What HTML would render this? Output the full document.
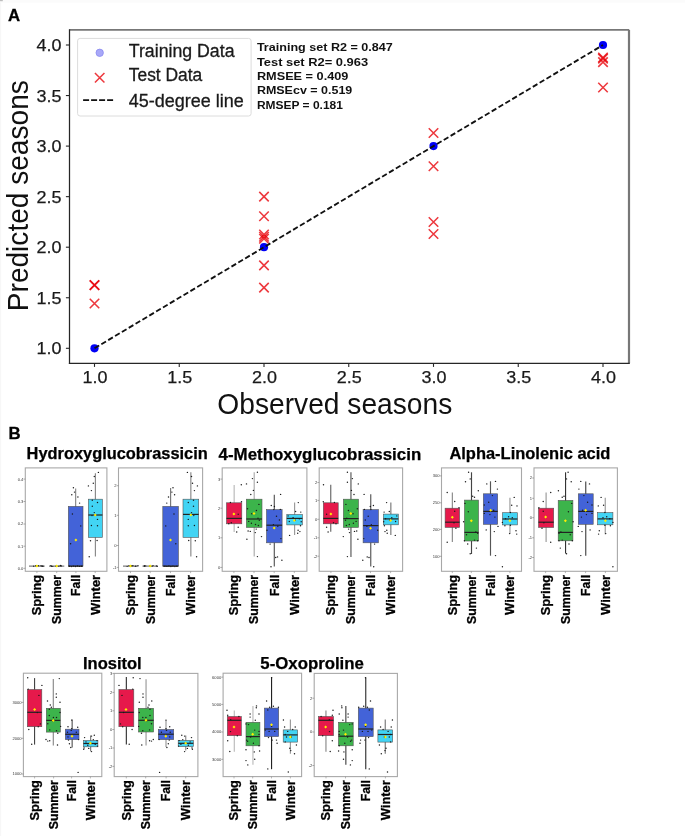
<!DOCTYPE html><html><head><meta charset="utf-8"><style>html,body{margin:0;padding:0;background:#fff;width:685px;height:836px;overflow:hidden}svg{display:block;will-change:transform}text{font-family:"Liberation Sans",sans-serif}</style></head><body>
<svg width="685" height="836" viewBox="0 0 685 836">
<rect x="0" y="0" width="685" height="836" fill="#fff"/>
<rect x="0" y="0" width="1.2" height="836" fill="#f7f7f7"/><rect x="0" y="0" width="685" height="2.6" fill="#fbfbfb"/><rect x="0" y="0" width="2.8" height="1.2" fill="#bdbdbd"/>
<text x="7.9" y="20.8" font-size="16.8" font-weight="bold" fill="#000" stroke="#000" stroke-width="0.3">A</text>
<line x1="69.5" y1="29.85" x2="629" y2="29.85" stroke="#777" stroke-width="1.6"/>
<line x1="629" y1="29.85" x2="629" y2="363.3" stroke="#777" stroke-width="2.2"/>
<line x1="69.5" y1="29.2" x2="69.5" y2="363.9" stroke="#262626" stroke-width="1.25"/>
<line x1="68.9" y1="363.3" x2="629.8" y2="363.3" stroke="#262626" stroke-width="1.25"/>
<line x1="94.50" y1="363.3" x2="94.50" y2="366.9" stroke="#262626" stroke-width="1.1"/>
<text x="94.90" y="383.2" font-size="17.3" text-anchor="middle" fill="#1a1a1a" stroke="#1a1a1a" stroke-width="0.25" textLength="25.0" lengthAdjust="spacingAndGlyphs">1.0</text>
<line x1="65.9" y1="348.30" x2="69.5" y2="348.30" stroke="#262626" stroke-width="1.1"/>
<text x="61.60" y="354.30" font-size="17.3" text-anchor="end" fill="#1a1a1a" stroke="#1a1a1a" stroke-width="0.25" textLength="25.0" lengthAdjust="spacingAndGlyphs">1.0</text>
<line x1="179.25" y1="363.3" x2="179.25" y2="366.9" stroke="#262626" stroke-width="1.1"/>
<text x="179.65" y="383.2" font-size="17.3" text-anchor="middle" fill="#1a1a1a" stroke="#1a1a1a" stroke-width="0.25" textLength="25.0" lengthAdjust="spacingAndGlyphs">1.5</text>
<line x1="65.9" y1="297.75" x2="69.5" y2="297.75" stroke="#262626" stroke-width="1.1"/>
<text x="61.60" y="303.75" font-size="17.3" text-anchor="end" fill="#1a1a1a" stroke="#1a1a1a" stroke-width="0.25" textLength="25.0" lengthAdjust="spacingAndGlyphs">1.5</text>
<line x1="264.00" y1="363.3" x2="264.00" y2="366.9" stroke="#262626" stroke-width="1.1"/>
<text x="264.40" y="383.2" font-size="17.3" text-anchor="middle" fill="#1a1a1a" stroke="#1a1a1a" stroke-width="0.25" textLength="25.0" lengthAdjust="spacingAndGlyphs">2.0</text>
<line x1="65.9" y1="247.20" x2="69.5" y2="247.20" stroke="#262626" stroke-width="1.1"/>
<text x="61.60" y="253.20" font-size="17.3" text-anchor="end" fill="#1a1a1a" stroke="#1a1a1a" stroke-width="0.25" textLength="25.0" lengthAdjust="spacingAndGlyphs">2.0</text>
<line x1="348.75" y1="363.3" x2="348.75" y2="366.9" stroke="#262626" stroke-width="1.1"/>
<text x="349.15" y="383.2" font-size="17.3" text-anchor="middle" fill="#1a1a1a" stroke="#1a1a1a" stroke-width="0.25" textLength="25.0" lengthAdjust="spacingAndGlyphs">2.5</text>
<line x1="65.9" y1="196.65" x2="69.5" y2="196.65" stroke="#262626" stroke-width="1.1"/>
<text x="61.60" y="202.65" font-size="17.3" text-anchor="end" fill="#1a1a1a" stroke="#1a1a1a" stroke-width="0.25" textLength="25.0" lengthAdjust="spacingAndGlyphs">2.5</text>
<line x1="433.50" y1="363.3" x2="433.50" y2="366.9" stroke="#262626" stroke-width="1.1"/>
<text x="433.90" y="383.2" font-size="17.3" text-anchor="middle" fill="#1a1a1a" stroke="#1a1a1a" stroke-width="0.25" textLength="25.0" lengthAdjust="spacingAndGlyphs">3.0</text>
<line x1="65.9" y1="146.10" x2="69.5" y2="146.10" stroke="#262626" stroke-width="1.1"/>
<text x="61.60" y="152.10" font-size="17.3" text-anchor="end" fill="#1a1a1a" stroke="#1a1a1a" stroke-width="0.25" textLength="25.0" lengthAdjust="spacingAndGlyphs">3.0</text>
<line x1="518.25" y1="363.3" x2="518.25" y2="366.9" stroke="#262626" stroke-width="1.1"/>
<text x="518.65" y="383.2" font-size="17.3" text-anchor="middle" fill="#1a1a1a" stroke="#1a1a1a" stroke-width="0.25" textLength="25.0" lengthAdjust="spacingAndGlyphs">3.5</text>
<line x1="65.9" y1="95.55" x2="69.5" y2="95.55" stroke="#262626" stroke-width="1.1"/>
<text x="61.60" y="101.55" font-size="17.3" text-anchor="end" fill="#1a1a1a" stroke="#1a1a1a" stroke-width="0.25" textLength="25.0" lengthAdjust="spacingAndGlyphs">3.5</text>
<line x1="603.00" y1="363.3" x2="603.00" y2="366.9" stroke="#262626" stroke-width="1.1"/>
<text x="603.40" y="383.2" font-size="17.3" text-anchor="middle" fill="#1a1a1a" stroke="#1a1a1a" stroke-width="0.25" textLength="25.0" lengthAdjust="spacingAndGlyphs">4.0</text>
<line x1="65.9" y1="45.00" x2="69.5" y2="45.00" stroke="#262626" stroke-width="1.1"/>
<text x="61.60" y="51.00" font-size="17.3" text-anchor="end" fill="#1a1a1a" stroke="#1a1a1a" stroke-width="0.25" textLength="25.0" lengthAdjust="spacingAndGlyphs">4.0</text>
<text x="217.3" y="414" font-size="30" fill="#111" textLength="235" lengthAdjust="spacingAndGlyphs">Observed seasons</text>
<text transform="translate(27.6,311.2) rotate(-90)" x="0" y="0" font-size="30" fill="#111" textLength="231" lengthAdjust="spacingAndGlyphs">Predicted seasons</text>
<circle cx="94.50" cy="348.30" r="4.1" fill="#0000f5"/>
<circle cx="264.00" cy="247.20" r="4.1" fill="#0000f5"/>
<circle cx="433.50" cy="146.10" r="4.1" fill="#0000f5"/>
<circle cx="603.00" cy="45.00" r="4.1" fill="#0000f5"/>
<path d="M89.75,280.36L99.25,289.86M89.75,289.86L99.25,280.36" stroke="rgba(232,0,8,0.78)" stroke-width="1.55" fill="none"/>
<path d="M89.75,280.36L99.25,289.86M89.75,289.86L99.25,280.36" stroke="rgba(232,0,8,0.78)" stroke-width="1.55" fill="none"/>
<path d="M89.75,298.76L99.25,308.26M89.75,308.26L99.25,298.76" stroke="rgba(232,0,8,0.78)" stroke-width="1.55" fill="none"/>
<path d="M259.25,191.90L268.75,201.40M259.25,201.40L268.75,191.90" stroke="rgba(232,0,8,0.78)" stroke-width="1.55" fill="none"/>
<path d="M259.25,211.51L268.75,221.01M259.25,221.01L268.75,211.51" stroke="rgba(232,0,8,0.78)" stroke-width="1.55" fill="none"/>
<path d="M259.25,229.71L268.75,239.21M259.25,239.21L268.75,229.71" stroke="rgba(232,0,8,0.78)" stroke-width="1.55" fill="none"/>
<path d="M259.25,231.94L268.75,241.44M259.25,241.44L268.75,231.94" stroke="rgba(232,0,8,0.78)" stroke-width="1.55" fill="none"/>
<path d="M259.25,234.06L268.75,243.56M259.25,243.56L268.75,234.06" stroke="rgba(232,0,8,0.78)" stroke-width="1.55" fill="none"/>
<path d="M259.25,260.65L268.75,270.15M259.25,270.15L268.75,260.65" stroke="rgba(232,0,8,0.78)" stroke-width="1.55" fill="none"/>
<path d="M259.25,282.89L268.75,292.39M259.25,292.39L268.75,282.89" stroke="rgba(232,0,8,0.78)" stroke-width="1.55" fill="none"/>
<path d="M428.75,128.21L438.25,137.71M428.75,137.71L438.25,128.21" stroke="rgba(232,0,8,0.78)" stroke-width="1.55" fill="none"/>
<path d="M428.75,161.57L438.25,171.07M428.75,171.07L438.25,161.57" stroke="rgba(232,0,8,0.78)" stroke-width="1.55" fill="none"/>
<path d="M428.75,217.18L438.25,226.68M428.75,226.68L438.25,217.18" stroke="rgba(232,0,8,0.78)" stroke-width="1.55" fill="none"/>
<path d="M428.75,229.31L438.25,238.81M428.75,238.81L438.25,229.31" stroke="rgba(232,0,8,0.78)" stroke-width="1.55" fill="none"/>
<path d="M598.25,52.69L607.75,62.19M598.25,62.19L607.75,52.69" stroke="rgba(232,0,8,0.78)" stroke-width="1.55" fill="none"/>
<path d="M598.25,53.90L607.75,63.40M598.25,63.40L607.75,53.90" stroke="rgba(232,0,8,0.78)" stroke-width="1.55" fill="none"/>
<path d="M598.25,57.34L607.75,66.84M598.25,66.84L607.75,57.34" stroke="rgba(232,0,8,0.78)" stroke-width="1.55" fill="none"/>
<path d="M598.25,82.71L607.75,92.21M598.25,92.21L607.75,82.71" stroke="rgba(232,0,8,0.78)" stroke-width="1.55" fill="none"/>
<line x1="94.50" y1="348.30" x2="603.00" y2="45.00" stroke="#111" stroke-width="1.85" stroke-dasharray="5.4 2.574"/>
<rect x="77.6" y="38.4" width="173.5" height="77.6" rx="2.5" ry="2.5" fill="rgba(255,255,255,0.85)" stroke="#dcdcdc" stroke-width="1"/>
<circle cx="99.7" cy="52.8" r="3.7" fill="#a8a8f8" stroke="#8a8af0" stroke-width="0.8"/>
<path d="M94.95,72.95L104.45,82.45M94.95,82.45L104.45,72.95" stroke="rgba(232,0,8,0.78)" stroke-width="1.55" fill="none"/>
<line x1="83.1" y1="100.1" x2="113.1" y2="100.1" stroke="#111" stroke-width="1.8" stroke-dasharray="6 2"/>
<text x="128.8" y="57" font-size="17.6" fill="#1a1a1a" stroke="#1a1a1a" stroke-width="0.3" textLength="105.7" lengthAdjust="spacingAndGlyphs">Training Data</text>
<text x="128.8" y="81.4" font-size="17.6" fill="#1a1a1a" stroke="#1a1a1a" stroke-width="0.3" textLength="73.5" lengthAdjust="spacingAndGlyphs">Test Data</text>
<text x="128.8" y="106.7" font-size="17.6" fill="#1a1a1a" stroke="#1a1a1a" stroke-width="0.3" textLength="115.1" lengthAdjust="spacingAndGlyphs">45-degree line</text>
<text x="256.9" y="51.4" font-size="11.6" font-weight="bold" fill="#111" textLength="135.9" lengthAdjust="spacingAndGlyphs">Training set R2 = 0.847</text>
<text x="256.9" y="65.7" font-size="11.6" font-weight="bold" fill="#111" textLength="111.2" lengthAdjust="spacingAndGlyphs">Test set R2= 0.963</text>
<text x="256.9" y="79.9" font-size="11.6" font-weight="bold" fill="#111" textLength="91.5" lengthAdjust="spacingAndGlyphs">RMSEE = 0.409</text>
<text x="256.9" y="94.4" font-size="11.6" font-weight="bold" fill="#111" textLength="95.4" lengthAdjust="spacingAndGlyphs">RMSEcv = 0.519</text>
<text x="256.9" y="108.9" font-size="11.6" font-weight="bold" fill="#111" textLength="86.0" lengthAdjust="spacingAndGlyphs">RMSEP = 0.181</text>
<text x="8.6" y="438.9" font-size="16.8" font-weight="bold" fill="#000" stroke="#000" stroke-width="0.3">B</text>
<text x="26.6" y="459.3" font-size="15.6" font-weight="bold" fill="#000" stroke="#000" stroke-width="0.25" textLength="181.2" lengthAdjust="spacingAndGlyphs">Hydroxyglucobrassicin</text>
<text x="218.6" y="459.6" font-size="15.6" font-weight="bold" fill="#000" stroke="#000" stroke-width="0.25" textLength="202.6" lengthAdjust="spacingAndGlyphs">4-Methoxyglucobrassicin</text>
<text x="449.4" y="459.3" font-size="15.6" font-weight="bold" fill="#000" stroke="#000" stroke-width="0.25" textLength="161.0" lengthAdjust="spacingAndGlyphs">Alpha-Linolenic acid</text>
<text x="83.0" y="668.5" font-size="15.6" font-weight="bold" fill="#000" stroke="#000" stroke-width="0.25" textLength="58.7" lengthAdjust="spacingAndGlyphs">Inositol</text>
<text x="260.3" y="668.5" font-size="15.6" font-weight="bold" fill="#000" stroke="#000" stroke-width="0.25" textLength="103.6" lengthAdjust="spacingAndGlyphs">5-Oxoproline</text>
<rect x="25.3" y="467.9" width="81.60" height="103.40" fill="#fff" stroke="#a8a8a8" stroke-width="1.1"/>
<line x1="23.50" y1="568.3" x2="25.3" y2="568.3" stroke="#777" stroke-width="0.6"/>
<text x="23.40" y="569.70" font-size="4.1" text-anchor="end" fill="#3a3a3a">0.0</text>
<line x1="23.50" y1="546.2" x2="25.3" y2="546.2" stroke="#777" stroke-width="0.6"/>
<text x="23.40" y="547.60" font-size="4.1" text-anchor="end" fill="#3a3a3a">0.1</text>
<line x1="23.50" y1="524" x2="25.3" y2="524" stroke="#777" stroke-width="0.6"/>
<text x="23.40" y="525.40" font-size="4.1" text-anchor="end" fill="#3a3a3a">0.2</text>
<line x1="23.50" y1="501.5" x2="25.3" y2="501.5" stroke="#777" stroke-width="0.6"/>
<text x="23.40" y="502.90" font-size="4.1" text-anchor="end" fill="#3a3a3a">0.3</text>
<line x1="23.50" y1="479.1" x2="25.3" y2="479.1" stroke="#777" stroke-width="0.6"/>
<text x="23.40" y="480.50" font-size="4.1" text-anchor="end" fill="#3a3a3a">0.4</text>
<line x1="36.9" y1="571.3" x2="36.9" y2="573.10" stroke="#888" stroke-width="0.6"/>
<line x1="36.85" y1="566.1" x2="36.85" y2="566.1" stroke="#888" stroke-width="1.15"/>
<line x1="29" y1="566.1" x2="44.7" y2="566.1" stroke="#333" stroke-width="0.8"/>
<circle cx="41.91" cy="566.18" r="0.65" fill="#1a1a1a"/>
<circle cx="35.68" cy="565.73" r="0.65" fill="#1a1a1a"/>
<circle cx="37.02" cy="565.86" r="0.65" fill="#1a1a1a"/>
<circle cx="41.02" cy="565.77" r="0.65" fill="#1a1a1a"/>
<circle cx="36.51" cy="566.03" r="0.65" fill="#1a1a1a"/>
<circle cx="42.85" cy="565.95" r="0.65" fill="#1a1a1a"/>
<circle cx="33.64" cy="566.18" r="0.65" fill="#1a1a1a"/>
<circle cx="38.59" cy="565.73" r="0.65" fill="#1a1a1a"/>
<circle cx="42.87" cy="566.38" r="0.65" fill="#1a1a1a"/>
<path d="M36.90,564.60L38.40,566.10L36.90,567.60L35.40,566.10Z" fill="#ffee00"/>
<text transform="translate(41.20,574.90) rotate(-90)" x="0" y="0" font-size="12.2" font-weight="bold" fill="#000" stroke="#000" stroke-width="0.3" text-anchor="end" textLength="40.3" lengthAdjust="spacingAndGlyphs">Spring</text>
<line x1="56.7" y1="571.3" x2="56.7" y2="573.10" stroke="#888" stroke-width="0.6"/>
<line x1="56.65" y1="566.1" x2="56.65" y2="566.1" stroke="#888" stroke-width="1.15"/>
<line x1="49" y1="566.1" x2="64.3" y2="566.1" stroke="#333" stroke-width="0.8"/>
<circle cx="51.42" cy="566.26" r="0.65" fill="#1a1a1a"/>
<circle cx="60.42" cy="565.73" r="0.65" fill="#1a1a1a"/>
<circle cx="56.58" cy="565.90" r="0.65" fill="#1a1a1a"/>
<circle cx="58.82" cy="566.21" r="0.65" fill="#1a1a1a"/>
<circle cx="50.84" cy="565.53" r="0.65" fill="#1a1a1a"/>
<circle cx="61.45" cy="565.89" r="0.65" fill="#1a1a1a"/>
<circle cx="60.40" cy="565.50" r="0.65" fill="#1a1a1a"/>
<circle cx="55.87" cy="566.15" r="0.65" fill="#1a1a1a"/>
<circle cx="52.77" cy="566.35" r="0.65" fill="#1a1a1a"/>
<path d="M56.70,564.60L58.20,566.10L56.70,567.60L55.20,566.10Z" fill="#ffee00"/>
<text transform="translate(61.00,574.90) rotate(-90)" x="0" y="0" font-size="12.2" font-weight="bold" fill="#000" stroke="#000" stroke-width="0.3" text-anchor="end" textLength="49.0" lengthAdjust="spacingAndGlyphs">Summer</text>
<line x1="75.9" y1="571.3" x2="75.9" y2="573.10" stroke="#888" stroke-width="0.6"/>
<line x1="75.65" y1="488.4" x2="75.65" y2="566.1" stroke="#888" stroke-width="1.15"/>
<rect x="68.3" y="506.4" width="14.70" height="59.70" fill="#4363d8" stroke="#555" stroke-width="0.6"/>
<line x1="68.3" y1="566.1" x2="83" y2="566.1" stroke="#222" stroke-width="1.2"/>
<circle cx="73.40" cy="487.80" r="0.72" fill="#1a1a1a"/>
<circle cx="74.50" cy="492.10" r="0.72" fill="#1a1a1a"/>
<circle cx="71.80" cy="494.80" r="0.72" fill="#1a1a1a"/>
<circle cx="77.90" cy="497.00" r="0.72" fill="#1a1a1a"/>
<circle cx="79.60" cy="503.10" r="0.72" fill="#1a1a1a"/>
<circle cx="72.40" cy="514.00" r="0.72" fill="#1a1a1a"/>
<circle cx="80.70" cy="525.90" r="0.72" fill="#1a1a1a"/>
<circle cx="70.60" cy="543.80" r="0.72" fill="#1a1a1a"/>
<circle cx="69.50" cy="566.30" r="0.72" fill="#1a1a1a"/>
<circle cx="71.50" cy="566.60" r="0.72" fill="#1a1a1a"/>
<circle cx="73.50" cy="566.10" r="0.72" fill="#1a1a1a"/>
<circle cx="75.50" cy="566.50" r="0.72" fill="#1a1a1a"/>
<circle cx="77.50" cy="566.00" r="0.72" fill="#1a1a1a"/>
<circle cx="79.50" cy="566.40" r="0.72" fill="#1a1a1a"/>
<circle cx="81.50" cy="566.20" r="0.72" fill="#1a1a1a"/>
<path d="M75.90,538.60L77.40,540.10L75.90,541.60L74.40,540.10Z" fill="#ffee00"/>
<text transform="translate(80.20,574.90) rotate(-90)" x="0" y="0" font-size="12.2" font-weight="bold" fill="#000" stroke="#000" stroke-width="0.3" text-anchor="end" textLength="21.0" lengthAdjust="spacingAndGlyphs">Fall</text>
<line x1="95.2" y1="571.3" x2="95.2" y2="573.10" stroke="#888" stroke-width="0.6"/>
<line x1="95.40" y1="473.2" x2="95.40" y2="556.6" stroke="#888" stroke-width="1.15"/>
<rect x="88.4" y="499.2" width="14.00" height="38.20" fill="#42d4f4" stroke="#555" stroke-width="0.6"/>
<line x1="88.4" y1="515" x2="102.4" y2="515" stroke="#222" stroke-width="1.2"/>
<circle cx="98.40" cy="472.40" r="0.72" fill="#1a1a1a"/>
<circle cx="94.30" cy="476.50" r="0.72" fill="#1a1a1a"/>
<circle cx="93.30" cy="483.30" r="0.72" fill="#1a1a1a"/>
<circle cx="88.40" cy="485.90" r="0.72" fill="#1a1a1a"/>
<circle cx="91.40" cy="490.60" r="0.72" fill="#1a1a1a"/>
<circle cx="92.30" cy="500.20" r="0.72" fill="#1a1a1a"/>
<circle cx="97.50" cy="502.50" r="0.72" fill="#1a1a1a"/>
<circle cx="92.30" cy="506.30" r="0.72" fill="#1a1a1a"/>
<circle cx="94.30" cy="512.60" r="0.72" fill="#1a1a1a"/>
<circle cx="92.00" cy="515.60" r="0.72" fill="#1a1a1a"/>
<circle cx="97.50" cy="519.40" r="0.72" fill="#1a1a1a"/>
<circle cx="91.40" cy="525.50" r="0.72" fill="#1a1a1a"/>
<circle cx="97.50" cy="525.80" r="0.72" fill="#1a1a1a"/>
<circle cx="90.50" cy="540.80" r="0.72" fill="#1a1a1a"/>
<circle cx="97.10" cy="540.50" r="0.72" fill="#1a1a1a"/>
<circle cx="89.20" cy="556.80" r="0.72" fill="#1a1a1a"/>
<path d="M95.20,513.50L96.70,515.00L95.20,516.50L93.70,515.00Z" fill="#ffee00"/>
<text transform="translate(99.50,574.90) rotate(-90)" x="0" y="0" font-size="12.2" font-weight="bold" fill="#000" stroke="#000" stroke-width="0.3" text-anchor="end" textLength="40.0" lengthAdjust="spacingAndGlyphs">Winter</text>
<rect x="118.5" y="467.9" width="84.10" height="103.40" fill="#fff" stroke="#a8a8a8" stroke-width="1.1"/>
<line x1="116.70" y1="567.4" x2="118.5" y2="567.4" stroke="#777" stroke-width="0.6"/>
<text x="116.60" y="568.80" font-size="4.1" text-anchor="end" fill="#3a3a3a">-1</text>
<line x1="116.70" y1="545.5" x2="118.5" y2="545.5" stroke="#777" stroke-width="0.6"/>
<text x="116.60" y="546.90" font-size="4.1" text-anchor="end" fill="#3a3a3a">0</text>
<line x1="116.70" y1="515.3" x2="118.5" y2="515.3" stroke="#777" stroke-width="0.6"/>
<text x="116.60" y="516.70" font-size="4.1" text-anchor="end" fill="#3a3a3a">1</text>
<line x1="116.70" y1="485.7" x2="118.5" y2="485.7" stroke="#777" stroke-width="0.6"/>
<text x="116.60" y="487.10" font-size="4.1" text-anchor="end" fill="#3a3a3a">2</text>
<line x1="130.5" y1="571.3" x2="130.5" y2="573.10" stroke="#888" stroke-width="0.6"/>
<line x1="130.75" y1="566.1" x2="130.75" y2="566.1" stroke="#888" stroke-width="1.15"/>
<line x1="123" y1="566.1" x2="138.5" y2="566.1" stroke="#333" stroke-width="0.8"/>
<circle cx="131.79" cy="565.89" r="0.65" fill="#1a1a1a"/>
<circle cx="131.88" cy="565.69" r="0.65" fill="#1a1a1a"/>
<circle cx="135.29" cy="566.24" r="0.65" fill="#1a1a1a"/>
<circle cx="132.98" cy="565.64" r="0.65" fill="#1a1a1a"/>
<circle cx="131.05" cy="565.79" r="0.65" fill="#1a1a1a"/>
<circle cx="127.12" cy="566.36" r="0.65" fill="#1a1a1a"/>
<circle cx="137.95" cy="565.54" r="0.65" fill="#1a1a1a"/>
<circle cx="135.97" cy="566.04" r="0.65" fill="#1a1a1a"/>
<circle cx="129.03" cy="565.76" r="0.65" fill="#1a1a1a"/>
<path d="M130.50,564.60L132.00,566.10L130.50,567.60L129.00,566.10Z" fill="#ffee00"/>
<text transform="translate(134.80,574.90) rotate(-90)" x="0" y="0" font-size="12.2" font-weight="bold" fill="#000" stroke="#000" stroke-width="0.3" text-anchor="end" textLength="40.3" lengthAdjust="spacingAndGlyphs">Spring</text>
<line x1="150.2" y1="571.3" x2="150.2" y2="573.10" stroke="#888" stroke-width="0.6"/>
<line x1="150.25" y1="566.1" x2="150.25" y2="566.1" stroke="#888" stroke-width="1.15"/>
<line x1="142.5" y1="566.1" x2="158" y2="566.1" stroke="#333" stroke-width="0.8"/>
<circle cx="149.56" cy="566.00" r="0.65" fill="#1a1a1a"/>
<circle cx="156.40" cy="565.92" r="0.65" fill="#1a1a1a"/>
<circle cx="150.36" cy="566.03" r="0.65" fill="#1a1a1a"/>
<circle cx="145.68" cy="565.96" r="0.65" fill="#1a1a1a"/>
<circle cx="152.13" cy="566.21" r="0.65" fill="#1a1a1a"/>
<circle cx="144.36" cy="565.77" r="0.65" fill="#1a1a1a"/>
<circle cx="144.31" cy="566.23" r="0.65" fill="#1a1a1a"/>
<circle cx="153.05" cy="565.54" r="0.65" fill="#1a1a1a"/>
<circle cx="157.24" cy="566.37" r="0.65" fill="#1a1a1a"/>
<path d="M150.20,564.60L151.70,566.10L150.20,567.60L148.70,566.10Z" fill="#ffee00"/>
<text transform="translate(154.50,574.90) rotate(-90)" x="0" y="0" font-size="12.2" font-weight="bold" fill="#000" stroke="#000" stroke-width="0.3" text-anchor="end" textLength="49.0" lengthAdjust="spacingAndGlyphs">Summer</text>
<line x1="170.5" y1="571.3" x2="170.5" y2="573.10" stroke="#888" stroke-width="0.6"/>
<line x1="170.60" y1="488" x2="170.60" y2="566.1" stroke="#777" stroke-width="1.15"/>
<rect x="162.8" y="506.4" width="15.60" height="59.70" fill="#4363d8" stroke="#555" stroke-width="0.6"/>
<line x1="162.8" y1="566.1" x2="178.4" y2="566.1" stroke="#222" stroke-width="1.2"/>
<circle cx="173.00" cy="487.80" r="0.72" fill="#1a1a1a"/>
<circle cx="171.90" cy="492.10" r="0.72" fill="#1a1a1a"/>
<circle cx="174.60" cy="494.80" r="0.72" fill="#1a1a1a"/>
<circle cx="168.50" cy="497.00" r="0.72" fill="#1a1a1a"/>
<circle cx="166.80" cy="503.10" r="0.72" fill="#1a1a1a"/>
<circle cx="174.00" cy="514.00" r="0.72" fill="#1a1a1a"/>
<circle cx="165.70" cy="525.90" r="0.72" fill="#1a1a1a"/>
<circle cx="175.80" cy="543.80" r="0.72" fill="#1a1a1a"/>
<circle cx="176.90" cy="566.30" r="0.72" fill="#1a1a1a"/>
<circle cx="174.90" cy="566.60" r="0.72" fill="#1a1a1a"/>
<circle cx="172.90" cy="566.10" r="0.72" fill="#1a1a1a"/>
<circle cx="170.90" cy="566.50" r="0.72" fill="#1a1a1a"/>
<circle cx="168.90" cy="566.00" r="0.72" fill="#1a1a1a"/>
<circle cx="166.90" cy="566.40" r="0.72" fill="#1a1a1a"/>
<circle cx="164.90" cy="566.20" r="0.72" fill="#1a1a1a"/>
<path d="M170.50,538.40L172.00,539.90L170.50,541.40L169.00,539.90Z" fill="#ffee00"/>
<text transform="translate(174.80,574.90) rotate(-90)" x="0" y="0" font-size="12.2" font-weight="bold" fill="#000" stroke="#000" stroke-width="0.3" text-anchor="end" textLength="21.0" lengthAdjust="spacingAndGlyphs">Fall</text>
<line x1="190.6" y1="571.3" x2="190.6" y2="573.10" stroke="#888" stroke-width="0.6"/>
<line x1="190.85" y1="472.3" x2="190.85" y2="556.6" stroke="#888" stroke-width="1.15"/>
<rect x="183" y="499.2" width="15.70" height="38.20" fill="#42d4f4" stroke="#555" stroke-width="0.6"/>
<line x1="183" y1="514.4" x2="198.7" y2="514.4" stroke="#222" stroke-width="1.2"/>
<circle cx="187.40" cy="472.40" r="0.72" fill="#1a1a1a"/>
<circle cx="191.50" cy="476.50" r="0.72" fill="#1a1a1a"/>
<circle cx="192.50" cy="483.30" r="0.72" fill="#1a1a1a"/>
<circle cx="197.40" cy="485.90" r="0.72" fill="#1a1a1a"/>
<circle cx="194.40" cy="490.60" r="0.72" fill="#1a1a1a"/>
<circle cx="193.50" cy="500.20" r="0.72" fill="#1a1a1a"/>
<circle cx="188.30" cy="502.50" r="0.72" fill="#1a1a1a"/>
<circle cx="193.50" cy="506.30" r="0.72" fill="#1a1a1a"/>
<circle cx="191.50" cy="512.60" r="0.72" fill="#1a1a1a"/>
<circle cx="193.80" cy="515.60" r="0.72" fill="#1a1a1a"/>
<circle cx="188.30" cy="519.40" r="0.72" fill="#1a1a1a"/>
<circle cx="194.40" cy="525.50" r="0.72" fill="#1a1a1a"/>
<circle cx="188.30" cy="525.80" r="0.72" fill="#1a1a1a"/>
<circle cx="195.30" cy="540.80" r="0.72" fill="#1a1a1a"/>
<circle cx="188.70" cy="540.50" r="0.72" fill="#1a1a1a"/>
<circle cx="196.60" cy="556.80" r="0.72" fill="#1a1a1a"/>
<path d="M190.90,513.50L192.40,515.00L190.90,516.50L189.40,515.00Z" fill="#ffee00"/>
<text transform="translate(194.90,574.90) rotate(-90)" x="0" y="0" font-size="12.2" font-weight="bold" fill="#000" stroke="#000" stroke-width="0.3" text-anchor="end" textLength="40.0" lengthAdjust="spacingAndGlyphs">Winter</text>
<rect x="222.2" y="467.9" width="84.70" height="103.40" fill="#fff" stroke="#a8a8a8" stroke-width="1.1"/>
<line x1="220.40" y1="567.4" x2="222.2" y2="567.4" stroke="#777" stroke-width="0.6"/>
<text x="220.30" y="568.80" font-size="4.1" text-anchor="end" fill="#3a3a3a">0</text>
<line x1="220.40" y1="537.8" x2="222.2" y2="537.8" stroke="#777" stroke-width="0.6"/>
<text x="220.30" y="539.20" font-size="4.1" text-anchor="end" fill="#3a3a3a">1</text>
<line x1="220.40" y1="508.2" x2="222.2" y2="508.2" stroke="#777" stroke-width="0.6"/>
<text x="220.30" y="509.60" font-size="4.1" text-anchor="end" fill="#3a3a3a">2</text>
<line x1="220.40" y1="479.1" x2="222.2" y2="479.1" stroke="#777" stroke-width="0.6"/>
<text x="220.30" y="480.50" font-size="4.1" text-anchor="end" fill="#3a3a3a">3</text>
<line x1="233.9" y1="571.3" x2="233.9" y2="573.10" stroke="#888" stroke-width="0.6"/>
<line x1="234.15" y1="484.9" x2="234.15" y2="531.9" stroke="#b8b8b8" stroke-width="1.15"/>
<rect x="226.5" y="502.8" width="15.30" height="21.00" fill="#e6194b" stroke="#555" stroke-width="0.6"/>
<line x1="226.5" y1="518.4" x2="241.8" y2="518.4" stroke="#222" stroke-width="1.2"/>
<circle cx="241.30" cy="484.80" r="0.72" fill="#1a1a1a"/>
<circle cx="230.40" cy="502.50" r="0.72" fill="#1a1a1a"/>
<circle cx="241.50" cy="501.80" r="0.72" fill="#1a1a1a"/>
<circle cx="238.20" cy="514.20" r="0.72" fill="#1a1a1a"/>
<circle cx="231.30" cy="522.70" r="0.72" fill="#1a1a1a"/>
<circle cx="228.80" cy="523.70" r="0.72" fill="#1a1a1a"/>
<circle cx="238.20" cy="527.30" r="0.72" fill="#1a1a1a"/>
<circle cx="236.70" cy="532.00" r="0.72" fill="#1a1a1a"/>
<path d="M233.90,512.40L235.40,513.90L233.90,515.40L232.40,513.90Z" fill="#ffee00"/>
<text transform="translate(238.20,574.90) rotate(-90)" x="0" y="0" font-size="12.2" font-weight="bold" fill="#000" stroke="#000" stroke-width="0.3" text-anchor="end" textLength="40.3" lengthAdjust="spacingAndGlyphs">Spring</text>
<line x1="254" y1="571.3" x2="254" y2="573.10" stroke="#888" stroke-width="0.6"/>
<line x1="254.20" y1="472.3" x2="254.20" y2="556.6" stroke="#aaa" stroke-width="1.15"/>
<rect x="246.4" y="499.2" width="15.60" height="28.20" fill="#3cb44b" stroke="#555" stroke-width="0.6"/>
<line x1="246.4" y1="519" x2="262" y2="519" stroke="#222" stroke-width="1.2"/>
<circle cx="257.40" cy="472.30" r="0.72" fill="#1a1a1a"/>
<circle cx="252.40" cy="478.60" r="0.72" fill="#1a1a1a"/>
<circle cx="257.40" cy="482.30" r="0.72" fill="#1a1a1a"/>
<circle cx="246.50" cy="483.90" r="0.72" fill="#1a1a1a"/>
<circle cx="253.40" cy="490.40" r="0.72" fill="#1a1a1a"/>
<circle cx="250.80" cy="494.50" r="0.72" fill="#1a1a1a"/>
<circle cx="258.90" cy="504.40" r="0.72" fill="#1a1a1a"/>
<circle cx="247.50" cy="508.80" r="0.72" fill="#1a1a1a"/>
<circle cx="256.40" cy="510.50" r="0.72" fill="#1a1a1a"/>
<circle cx="251.80" cy="513.70" r="0.72" fill="#1a1a1a"/>
<circle cx="258.00" cy="518.30" r="0.72" fill="#1a1a1a"/>
<circle cx="259.30" cy="520.20" r="0.72" fill="#1a1a1a"/>
<circle cx="248.70" cy="521.40" r="0.72" fill="#1a1a1a"/>
<circle cx="251.40" cy="523.30" r="0.72" fill="#1a1a1a"/>
<circle cx="255.50" cy="524.50" r="0.72" fill="#1a1a1a"/>
<circle cx="258.40" cy="525.50" r="0.72" fill="#1a1a1a"/>
<circle cx="256.20" cy="529.10" r="0.72" fill="#1a1a1a"/>
<circle cx="248.10" cy="531.00" r="0.72" fill="#1a1a1a"/>
<circle cx="250.30" cy="531.40" r="0.72" fill="#1a1a1a"/>
<circle cx="255.30" cy="532.60" r="0.72" fill="#1a1a1a"/>
<circle cx="261.50" cy="536.60" r="0.72" fill="#1a1a1a"/>
<circle cx="246.90" cy="539.20" r="0.72" fill="#1a1a1a"/>
<circle cx="257.40" cy="556.60" r="0.72" fill="#1a1a1a"/>
<path d="M254.00,512.10L255.50,513.60L254.00,515.10L252.50,513.60Z" fill="#ffee00"/>
<text transform="translate(258.30,574.90) rotate(-90)" x="0" y="0" font-size="12.2" font-weight="bold" fill="#000" stroke="#000" stroke-width="0.3" text-anchor="end" textLength="49.0" lengthAdjust="spacingAndGlyphs">Summer</text>
<line x1="274.2" y1="571.3" x2="274.2" y2="573.10" stroke="#888" stroke-width="0.6"/>
<line x1="274.30" y1="494.7" x2="274.30" y2="566.5" stroke="#555" stroke-width="1.15"/>
<rect x="266.5" y="509.6" width="15.60" height="33.20" fill="#4363d8" stroke="#555" stroke-width="0.6"/>
<line x1="266.5" y1="525.2" x2="282.1" y2="525.2" stroke="#222" stroke-width="1.2"/>
<circle cx="280.60" cy="494.40" r="0.72" fill="#1a1a1a"/>
<circle cx="271.30" cy="505.50" r="0.72" fill="#1a1a1a"/>
<circle cx="274.40" cy="506.50" r="0.72" fill="#1a1a1a"/>
<circle cx="280.30" cy="509.40" r="0.72" fill="#1a1a1a"/>
<circle cx="273.80" cy="509.60" r="0.72" fill="#1a1a1a"/>
<circle cx="276.50" cy="516.20" r="0.72" fill="#1a1a1a"/>
<circle cx="279.40" cy="520.00" r="0.72" fill="#1a1a1a"/>
<circle cx="273.40" cy="524.60" r="0.72" fill="#1a1a1a"/>
<circle cx="277.80" cy="526.20" r="0.72" fill="#1a1a1a"/>
<circle cx="267.00" cy="530.20" r="0.72" fill="#1a1a1a"/>
<circle cx="280.90" cy="538.60" r="0.72" fill="#1a1a1a"/>
<circle cx="270.10" cy="544.10" r="0.72" fill="#1a1a1a"/>
<circle cx="275.70" cy="557.50" r="0.72" fill="#1a1a1a"/>
<circle cx="277.50" cy="556.90" r="0.72" fill="#1a1a1a"/>
<circle cx="281.90" cy="560.20" r="0.72" fill="#1a1a1a"/>
<circle cx="271.00" cy="566.80" r="0.72" fill="#1a1a1a"/>
<path d="M274.20,526.40L275.70,527.90L274.20,529.40L272.70,527.90Z" fill="#ffee00"/>
<text transform="translate(278.50,574.90) rotate(-90)" x="0" y="0" font-size="12.2" font-weight="bold" fill="#000" stroke="#000" stroke-width="0.3" text-anchor="end" textLength="21.0" lengthAdjust="spacingAndGlyphs">Fall</text>
<line x1="294.3" y1="571.3" x2="294.3" y2="573.10" stroke="#888" stroke-width="0.6"/>
<line x1="294.60" y1="502.4" x2="294.60" y2="535.1" stroke="#999" stroke-width="1.15"/>
<rect x="286.8" y="514.5" width="15.60" height="10.40" fill="#42d4f4" stroke="#555" stroke-width="0.6"/>
<line x1="286.8" y1="518.4" x2="302.4" y2="518.4" stroke="#222" stroke-width="1.2"/>
<circle cx="298.30" cy="502.60" r="0.72" fill="#1a1a1a"/>
<circle cx="295.60" cy="511.50" r="0.72" fill="#1a1a1a"/>
<circle cx="300.80" cy="512.10" r="0.72" fill="#1a1a1a"/>
<circle cx="288.10" cy="515.90" r="0.72" fill="#1a1a1a"/>
<circle cx="293.10" cy="517.70" r="0.72" fill="#1a1a1a"/>
<circle cx="299.30" cy="518.70" r="0.72" fill="#1a1a1a"/>
<circle cx="295.30" cy="520.20" r="0.72" fill="#1a1a1a"/>
<circle cx="289.30" cy="521.50" r="0.72" fill="#1a1a1a"/>
<circle cx="301.20" cy="521.70" r="0.72" fill="#1a1a1a"/>
<circle cx="300.50" cy="525.80" r="0.72" fill="#1a1a1a"/>
<circle cx="298.10" cy="530.20" r="0.72" fill="#1a1a1a"/>
<circle cx="299.90" cy="531.60" r="0.72" fill="#1a1a1a"/>
<circle cx="297.70" cy="533.30" r="0.72" fill="#1a1a1a"/>
<circle cx="289.60" cy="535.40" r="0.72" fill="#1a1a1a"/>
<path d="M294.30,518.90L295.80,520.40L294.30,521.90L292.80,520.40Z" fill="#ffee00"/>
<text transform="translate(298.60,574.90) rotate(-90)" x="0" y="0" font-size="12.2" font-weight="bold" fill="#000" stroke="#000" stroke-width="0.3" text-anchor="end" textLength="40.0" lengthAdjust="spacingAndGlyphs">Winter</text>
<rect x="319.2" y="467.9" width="83.40" height="103.40" fill="#fff" stroke="#a8a8a8" stroke-width="1.1"/>
<line x1="317.40" y1="556.2" x2="319.2" y2="556.2" stroke="#777" stroke-width="0.6"/>
<text x="317.30" y="557.60" font-size="4.1" text-anchor="end" fill="#3a3a3a">-2</text>
<line x1="317.40" y1="537.8" x2="319.2" y2="537.8" stroke="#777" stroke-width="0.6"/>
<text x="317.30" y="539.20" font-size="4.1" text-anchor="end" fill="#3a3a3a">-1</text>
<line x1="317.40" y1="519.3" x2="319.2" y2="519.3" stroke="#777" stroke-width="0.6"/>
<text x="317.30" y="520.70" font-size="4.1" text-anchor="end" fill="#3a3a3a">0</text>
<line x1="317.40" y1="500.4" x2="319.2" y2="500.4" stroke="#777" stroke-width="0.6"/>
<text x="317.30" y="501.80" font-size="4.1" text-anchor="end" fill="#3a3a3a">1</text>
<line x1="317.40" y1="482.5" x2="319.2" y2="482.5" stroke="#777" stroke-width="0.6"/>
<text x="317.30" y="483.90" font-size="4.1" text-anchor="end" fill="#3a3a3a">2</text>
<line x1="330.9" y1="571.3" x2="330.9" y2="573.10" stroke="#888" stroke-width="0.6"/>
<line x1="330.75" y1="484.8" x2="330.75" y2="531.8" stroke="#666" stroke-width="1.15"/>
<rect x="323.3" y="502.8" width="14.90" height="21.00" fill="#e6194b" stroke="#555" stroke-width="0.6"/>
<line x1="323.3" y1="518.4" x2="338.2" y2="518.4" stroke="#222" stroke-width="1.2"/>
<circle cx="323.50" cy="484.80" r="0.72" fill="#1a1a1a"/>
<circle cx="334.40" cy="502.50" r="0.72" fill="#1a1a1a"/>
<circle cx="323.30" cy="501.80" r="0.72" fill="#1a1a1a"/>
<circle cx="326.60" cy="514.20" r="0.72" fill="#1a1a1a"/>
<circle cx="333.50" cy="522.70" r="0.72" fill="#1a1a1a"/>
<circle cx="336.00" cy="523.70" r="0.72" fill="#1a1a1a"/>
<circle cx="326.60" cy="527.30" r="0.72" fill="#1a1a1a"/>
<circle cx="328.10" cy="532.00" r="0.72" fill="#1a1a1a"/>
<path d="M330.90,512.40L332.40,513.90L330.90,515.40L329.40,513.90Z" fill="#ffee00"/>
<text transform="translate(335.20,574.90) rotate(-90)" x="0" y="0" font-size="12.2" font-weight="bold" fill="#000" stroke="#000" stroke-width="0.3" text-anchor="end" textLength="40.3" lengthAdjust="spacingAndGlyphs">Spring</text>
<line x1="350.8" y1="571.3" x2="350.8" y2="573.10" stroke="#888" stroke-width="0.6"/>
<line x1="350.95" y1="472.3" x2="350.95" y2="557" stroke="#555" stroke-width="1.15"/>
<rect x="343.4" y="499.2" width="15.10" height="28.20" fill="#3cb44b" stroke="#555" stroke-width="0.6"/>
<line x1="343.4" y1="518.6" x2="358.5" y2="518.6" stroke="#222" stroke-width="1.2"/>
<circle cx="347.40" cy="472.30" r="0.72" fill="#1a1a1a"/>
<circle cx="352.40" cy="478.60" r="0.72" fill="#1a1a1a"/>
<circle cx="347.40" cy="482.30" r="0.72" fill="#1a1a1a"/>
<circle cx="358.30" cy="483.90" r="0.72" fill="#1a1a1a"/>
<circle cx="351.40" cy="490.40" r="0.72" fill="#1a1a1a"/>
<circle cx="354.00" cy="494.50" r="0.72" fill="#1a1a1a"/>
<circle cx="345.90" cy="504.40" r="0.72" fill="#1a1a1a"/>
<circle cx="357.30" cy="508.80" r="0.72" fill="#1a1a1a"/>
<circle cx="348.40" cy="510.50" r="0.72" fill="#1a1a1a"/>
<circle cx="353.00" cy="513.70" r="0.72" fill="#1a1a1a"/>
<circle cx="346.80" cy="518.30" r="0.72" fill="#1a1a1a"/>
<circle cx="345.50" cy="520.20" r="0.72" fill="#1a1a1a"/>
<circle cx="356.10" cy="521.40" r="0.72" fill="#1a1a1a"/>
<circle cx="353.40" cy="523.30" r="0.72" fill="#1a1a1a"/>
<circle cx="349.30" cy="524.50" r="0.72" fill="#1a1a1a"/>
<circle cx="346.40" cy="525.50" r="0.72" fill="#1a1a1a"/>
<circle cx="348.60" cy="529.10" r="0.72" fill="#1a1a1a"/>
<circle cx="356.70" cy="531.00" r="0.72" fill="#1a1a1a"/>
<circle cx="354.50" cy="531.40" r="0.72" fill="#1a1a1a"/>
<circle cx="349.50" cy="532.60" r="0.72" fill="#1a1a1a"/>
<circle cx="343.30" cy="536.60" r="0.72" fill="#1a1a1a"/>
<circle cx="357.90" cy="539.20" r="0.72" fill="#1a1a1a"/>
<circle cx="347.40" cy="556.60" r="0.72" fill="#1a1a1a"/>
<path d="M350.80,512.00L352.30,513.50L350.80,515.00L349.30,513.50Z" fill="#ffee00"/>
<text transform="translate(355.10,574.90) rotate(-90)" x="0" y="0" font-size="12.2" font-weight="bold" fill="#000" stroke="#000" stroke-width="0.3" text-anchor="end" textLength="49.0" lengthAdjust="spacingAndGlyphs">Summer</text>
<line x1="370.5" y1="571.3" x2="370.5" y2="573.10" stroke="#888" stroke-width="0.6"/>
<line x1="370.75" y1="494.2" x2="370.75" y2="566.5" stroke="#555" stroke-width="1.15"/>
<rect x="363.1" y="509.6" width="15.30" height="33.20" fill="#4363d8" stroke="#555" stroke-width="0.6"/>
<line x1="363.1" y1="525.6" x2="378.4" y2="525.6" stroke="#222" stroke-width="1.2"/>
<circle cx="364.10" cy="494.40" r="0.72" fill="#1a1a1a"/>
<circle cx="373.40" cy="505.50" r="0.72" fill="#1a1a1a"/>
<circle cx="370.30" cy="506.50" r="0.72" fill="#1a1a1a"/>
<circle cx="364.40" cy="509.40" r="0.72" fill="#1a1a1a"/>
<circle cx="370.90" cy="509.60" r="0.72" fill="#1a1a1a"/>
<circle cx="368.20" cy="516.20" r="0.72" fill="#1a1a1a"/>
<circle cx="365.30" cy="520.00" r="0.72" fill="#1a1a1a"/>
<circle cx="371.30" cy="524.60" r="0.72" fill="#1a1a1a"/>
<circle cx="366.90" cy="526.20" r="0.72" fill="#1a1a1a"/>
<circle cx="377.70" cy="530.20" r="0.72" fill="#1a1a1a"/>
<circle cx="363.80" cy="538.60" r="0.72" fill="#1a1a1a"/>
<circle cx="374.60" cy="544.10" r="0.72" fill="#1a1a1a"/>
<circle cx="369.00" cy="557.50" r="0.72" fill="#1a1a1a"/>
<circle cx="367.20" cy="556.90" r="0.72" fill="#1a1a1a"/>
<circle cx="362.80" cy="560.20" r="0.72" fill="#1a1a1a"/>
<circle cx="373.70" cy="566.80" r="0.72" fill="#1a1a1a"/>
<path d="M370.50,526.80L372.00,528.30L370.50,529.80L369.00,528.30Z" fill="#ffee00"/>
<text transform="translate(374.80,574.90) rotate(-90)" x="0" y="0" font-size="12.2" font-weight="bold" fill="#000" stroke="#000" stroke-width="0.3" text-anchor="end" textLength="21.0" lengthAdjust="spacingAndGlyphs">Fall</text>
<line x1="390.6" y1="571.3" x2="390.6" y2="573.10" stroke="#888" stroke-width="0.6"/>
<line x1="390.85" y1="502.4" x2="390.85" y2="535" stroke="#777" stroke-width="1.15"/>
<rect x="383.4" y="514.1" width="14.90" height="10.70" fill="#42d4f4" stroke="#555" stroke-width="0.6"/>
<line x1="383.4" y1="518.9" x2="398.3" y2="518.9" stroke="#222" stroke-width="1.2"/>
<circle cx="386.60" cy="502.60" r="0.72" fill="#1a1a1a"/>
<circle cx="389.30" cy="511.50" r="0.72" fill="#1a1a1a"/>
<circle cx="384.10" cy="512.10" r="0.72" fill="#1a1a1a"/>
<circle cx="396.80" cy="515.90" r="0.72" fill="#1a1a1a"/>
<circle cx="391.80" cy="517.70" r="0.72" fill="#1a1a1a"/>
<circle cx="385.60" cy="518.70" r="0.72" fill="#1a1a1a"/>
<circle cx="389.60" cy="520.20" r="0.72" fill="#1a1a1a"/>
<circle cx="395.60" cy="521.50" r="0.72" fill="#1a1a1a"/>
<circle cx="383.70" cy="521.70" r="0.72" fill="#1a1a1a"/>
<circle cx="384.40" cy="525.80" r="0.72" fill="#1a1a1a"/>
<circle cx="386.80" cy="530.20" r="0.72" fill="#1a1a1a"/>
<circle cx="385.00" cy="531.60" r="0.72" fill="#1a1a1a"/>
<circle cx="387.20" cy="533.30" r="0.72" fill="#1a1a1a"/>
<circle cx="395.30" cy="535.40" r="0.72" fill="#1a1a1a"/>
<path d="M390.60,518.90L392.10,520.40L390.60,521.90L389.10,520.40Z" fill="#ffee00"/>
<text transform="translate(394.90,574.90) rotate(-90)" x="0" y="0" font-size="12.2" font-weight="bold" fill="#000" stroke="#000" stroke-width="0.3" text-anchor="end" textLength="40.0" lengthAdjust="spacingAndGlyphs">Winter</text>
<rect x="441.5" y="467.9" width="80.00" height="103.40" fill="#fff" stroke="#a8a8a8" stroke-width="1.1"/>
<line x1="439.70" y1="556.3" x2="441.5" y2="556.3" stroke="#777" stroke-width="0.6"/>
<text x="439.60" y="557.70" font-size="4.1" text-anchor="end" fill="#3a3a3a">100</text>
<line x1="439.70" y1="529.4" x2="441.5" y2="529.4" stroke="#777" stroke-width="0.6"/>
<text x="439.60" y="530.80" font-size="4.1" text-anchor="end" fill="#3a3a3a">200</text>
<line x1="439.70" y1="502.8" x2="441.5" y2="502.8" stroke="#777" stroke-width="0.6"/>
<text x="439.60" y="504.20" font-size="4.1" text-anchor="end" fill="#3a3a3a">250</text>
<line x1="439.70" y1="475.9" x2="441.5" y2="475.9" stroke="#777" stroke-width="0.6"/>
<text x="439.60" y="477.30" font-size="4.1" text-anchor="end" fill="#3a3a3a">300</text>
<line x1="452.3" y1="571.3" x2="452.3" y2="573.10" stroke="#888" stroke-width="0.6"/>
<line x1="452.35" y1="492.4" x2="452.35" y2="541.9" stroke="#888" stroke-width="1.15"/>
<rect x="445.1" y="508.2" width="14.50" height="19.20" fill="#e6194b" stroke="#555" stroke-width="0.6"/>
<line x1="445.1" y1="522.2" x2="459.6" y2="522.2" stroke="#222" stroke-width="1.2"/>
<circle cx="447.20" cy="492.50" r="0.72" fill="#1a1a1a"/>
<circle cx="454.70" cy="501.50" r="0.72" fill="#1a1a1a"/>
<circle cx="459.00" cy="507.80" r="0.72" fill="#1a1a1a"/>
<circle cx="454.70" cy="511.20" r="0.72" fill="#1a1a1a"/>
<circle cx="454.00" cy="522.70" r="0.72" fill="#1a1a1a"/>
<circle cx="455.90" cy="528.30" r="0.72" fill="#1a1a1a"/>
<circle cx="447.20" cy="542.30" r="0.72" fill="#1a1a1a"/>
<path d="M452.30,515.70L453.80,517.20L452.30,518.70L450.80,517.20Z" fill="#ffee00"/>
<text transform="translate(456.60,574.90) rotate(-90)" x="0" y="0" font-size="12.2" font-weight="bold" fill="#000" stroke="#000" stroke-width="0.3" text-anchor="end" textLength="40.3" lengthAdjust="spacingAndGlyphs">Spring</text>
<line x1="471.3" y1="571.3" x2="471.3" y2="573.10" stroke="#888" stroke-width="0.6"/>
<line x1="471.50" y1="472.3" x2="471.50" y2="554" stroke="#444" stroke-width="1.15"/>
<rect x="464.5" y="500.1" width="14.00" height="40.90" fill="#3cb44b" stroke="#555" stroke-width="0.6"/>
<line x1="464.5" y1="532.4" x2="478.5" y2="532.4" stroke="#222" stroke-width="1.2"/>
<circle cx="468.60" cy="472.30" r="0.72" fill="#1a1a1a"/>
<circle cx="470.20" cy="478.90" r="0.72" fill="#1a1a1a"/>
<circle cx="465.50" cy="481.70" r="0.72" fill="#1a1a1a"/>
<circle cx="478.30" cy="490.70" r="0.72" fill="#1a1a1a"/>
<circle cx="472.70" cy="496.30" r="0.72" fill="#1a1a1a"/>
<circle cx="474.50" cy="497.20" r="0.72" fill="#1a1a1a"/>
<circle cx="465.00" cy="503.40" r="0.72" fill="#1a1a1a"/>
<circle cx="468.30" cy="511.70" r="0.72" fill="#1a1a1a"/>
<circle cx="463.60" cy="521.70" r="0.72" fill="#1a1a1a"/>
<circle cx="466.50" cy="534.80" r="0.72" fill="#1a1a1a"/>
<circle cx="475.80" cy="532.00" r="0.72" fill="#1a1a1a"/>
<circle cx="477.70" cy="533.20" r="0.72" fill="#1a1a1a"/>
<circle cx="464.40" cy="540.70" r="0.72" fill="#1a1a1a"/>
<circle cx="474.50" cy="540.10" r="0.72" fill="#1a1a1a"/>
<circle cx="477.70" cy="540.70" r="0.72" fill="#1a1a1a"/>
<circle cx="467.70" cy="544.00" r="0.72" fill="#1a1a1a"/>
<circle cx="476.40" cy="548.10" r="0.72" fill="#1a1a1a"/>
<circle cx="470.20" cy="553.70" r="0.72" fill="#1a1a1a"/>
<path d="M471.30,519.20L472.80,520.70L471.30,522.20L469.80,520.70Z" fill="#ffee00"/>
<text transform="translate(475.60,574.90) rotate(-90)" x="0" y="0" font-size="12.2" font-weight="bold" fill="#000" stroke="#000" stroke-width="0.3" text-anchor="end" textLength="49.0" lengthAdjust="spacingAndGlyphs">Summer</text>
<line x1="490.7" y1="571.3" x2="490.7" y2="573.10" stroke="#888" stroke-width="0.6"/>
<line x1="490.50" y1="481.3" x2="490.50" y2="555.7" stroke="#555" stroke-width="1.15"/>
<rect x="483.3" y="493.8" width="14.40" height="30.50" fill="#4363d8" stroke="#555" stroke-width="0.6"/>
<line x1="483.3" y1="511.4" x2="497.7" y2="511.4" stroke="#222" stroke-width="1.2"/>
<circle cx="495.50" cy="481.40" r="0.72" fill="#1a1a1a"/>
<circle cx="486.80" cy="483.90" r="0.72" fill="#1a1a1a"/>
<circle cx="497.40" cy="489.10" r="0.72" fill="#1a1a1a"/>
<circle cx="492.40" cy="495.60" r="0.72" fill="#1a1a1a"/>
<circle cx="488.70" cy="502.20" r="0.72" fill="#1a1a1a"/>
<circle cx="484.30" cy="505.00" r="0.72" fill="#1a1a1a"/>
<circle cx="493.70" cy="510.20" r="0.72" fill="#1a1a1a"/>
<circle cx="484.30" cy="513.40" r="0.72" fill="#1a1a1a"/>
<circle cx="489.90" cy="514.60" r="0.72" fill="#1a1a1a"/>
<circle cx="494.90" cy="517.10" r="0.72" fill="#1a1a1a"/>
<circle cx="498.00" cy="526.40" r="0.72" fill="#1a1a1a"/>
<circle cx="486.20" cy="529.90" r="0.72" fill="#1a1a1a"/>
<circle cx="494.30" cy="531.60" r="0.72" fill="#1a1a1a"/>
<circle cx="495.50" cy="555.60" r="0.72" fill="#1a1a1a"/>
<path d="M490.70,508.80L492.20,510.30L490.70,511.80L489.20,510.30Z" fill="#ffee00"/>
<text transform="translate(495.00,574.90) rotate(-90)" x="0" y="0" font-size="12.2" font-weight="bold" fill="#000" stroke="#000" stroke-width="0.3" text-anchor="end" textLength="21.0" lengthAdjust="spacingAndGlyphs">Fall</text>
<line x1="509.9" y1="571.3" x2="509.9" y2="573.10" stroke="#888" stroke-width="0.6"/>
<line x1="509.95" y1="497.8" x2="509.95" y2="533.8" stroke="#999" stroke-width="1.15"/>
<rect x="502.5" y="512.7" width="14.90" height="12.20" fill="#42d4f4" stroke="#555" stroke-width="0.6"/>
<line x1="502.5" y1="519" x2="517.4" y2="519" stroke="#222" stroke-width="1.2"/>
<circle cx="514.20" cy="497.40" r="0.72" fill="#1a1a1a"/>
<circle cx="511.70" cy="505.30" r="0.72" fill="#1a1a1a"/>
<circle cx="517.00" cy="505.90" r="0.72" fill="#1a1a1a"/>
<circle cx="510.40" cy="512.50" r="0.72" fill="#1a1a1a"/>
<circle cx="508.60" cy="516.80" r="0.72" fill="#1a1a1a"/>
<circle cx="512.30" cy="517.70" r="0.72" fill="#1a1a1a"/>
<circle cx="505.50" cy="518.70" r="0.72" fill="#1a1a1a"/>
<circle cx="502.40" cy="522.40" r="0.72" fill="#1a1a1a"/>
<circle cx="504.90" cy="525.80" r="0.72" fill="#1a1a1a"/>
<circle cx="510.40" cy="525.20" r="0.72" fill="#1a1a1a"/>
<circle cx="516.00" cy="530.70" r="0.72" fill="#1a1a1a"/>
<circle cx="516.70" cy="534.10" r="0.72" fill="#1a1a1a"/>
<circle cx="509.60" cy="533.60" r="0.72" fill="#1a1a1a"/>
<circle cx="502.40" cy="566.80" r="0.72" fill="#1a1a1a"/>
<path d="M509.90,519.20L511.40,520.70L509.90,522.20L508.40,520.70Z" fill="#ffee00"/>
<text transform="translate(514.20,574.90) rotate(-90)" x="0" y="0" font-size="12.2" font-weight="bold" fill="#000" stroke="#000" stroke-width="0.3" text-anchor="end" textLength="40.0" lengthAdjust="spacingAndGlyphs">Winter</text>
<rect x="534" y="467.9" width="83.40" height="103.40" fill="#fff" stroke="#a8a8a8" stroke-width="1.1"/>
<line x1="532.20" y1="557.5" x2="534" y2="557.5" stroke="#777" stroke-width="0.6"/>
<text x="532.10" y="558.90" font-size="4.1" text-anchor="end" fill="#3a3a3a">-2</text>
<line x1="532.20" y1="537.8" x2="534" y2="537.8" stroke="#777" stroke-width="0.6"/>
<text x="532.10" y="539.20" font-size="4.1" text-anchor="end" fill="#3a3a3a">-1</text>
<line x1="532.20" y1="517.7" x2="534" y2="517.7" stroke="#777" stroke-width="0.6"/>
<text x="532.10" y="519.10" font-size="4.1" text-anchor="end" fill="#3a3a3a">0</text>
<line x1="532.20" y1="498.3" x2="534" y2="498.3" stroke="#777" stroke-width="0.6"/>
<text x="532.10" y="499.70" font-size="4.1" text-anchor="end" fill="#3a3a3a">1</text>
<line x1="532.20" y1="478" x2="534" y2="478" stroke="#777" stroke-width="0.6"/>
<text x="532.10" y="479.40" font-size="4.1" text-anchor="end" fill="#3a3a3a">2</text>
<line x1="545.6" y1="571.3" x2="545.6" y2="573.10" stroke="#888" stroke-width="0.6"/>
<line x1="546.10" y1="492.4" x2="546.10" y2="541.9" stroke="#999" stroke-width="1.15"/>
<rect x="538.5" y="508.2" width="15.20" height="19.20" fill="#e6194b" stroke="#555" stroke-width="0.6"/>
<line x1="538.5" y1="522.2" x2="553.7" y2="522.2" stroke="#222" stroke-width="1.2"/>
<circle cx="550.70" cy="492.50" r="0.72" fill="#1a1a1a"/>
<circle cx="543.20" cy="501.50" r="0.72" fill="#1a1a1a"/>
<circle cx="538.90" cy="507.80" r="0.72" fill="#1a1a1a"/>
<circle cx="543.20" cy="511.20" r="0.72" fill="#1a1a1a"/>
<circle cx="543.90" cy="522.70" r="0.72" fill="#1a1a1a"/>
<circle cx="542.00" cy="528.30" r="0.72" fill="#1a1a1a"/>
<circle cx="550.70" cy="542.30" r="0.72" fill="#1a1a1a"/>
<path d="M545.60,515.60L547.10,517.10L545.60,518.60L544.10,517.10Z" fill="#ffee00"/>
<text transform="translate(549.90,574.90) rotate(-90)" x="0" y="0" font-size="12.2" font-weight="bold" fill="#000" stroke="#000" stroke-width="0.3" text-anchor="end" textLength="40.3" lengthAdjust="spacingAndGlyphs">Spring</text>
<line x1="565.4" y1="571.3" x2="565.4" y2="573.10" stroke="#888" stroke-width="0.6"/>
<line x1="565.55" y1="472.3" x2="565.55" y2="553.5" stroke="#333" stroke-width="1.15"/>
<rect x="558.2" y="500.4" width="14.70" height="40.40" fill="#3cb44b" stroke="#555" stroke-width="0.6"/>
<line x1="558.2" y1="532.4" x2="572.9" y2="532.4" stroke="#222" stroke-width="1.2"/>
<circle cx="568.10" cy="472.30" r="0.72" fill="#1a1a1a"/>
<circle cx="566.50" cy="478.90" r="0.72" fill="#1a1a1a"/>
<circle cx="571.20" cy="481.70" r="0.72" fill="#1a1a1a"/>
<circle cx="558.40" cy="490.70" r="0.72" fill="#1a1a1a"/>
<circle cx="564.00" cy="496.30" r="0.72" fill="#1a1a1a"/>
<circle cx="562.20" cy="497.20" r="0.72" fill="#1a1a1a"/>
<circle cx="571.70" cy="503.40" r="0.72" fill="#1a1a1a"/>
<circle cx="568.40" cy="511.70" r="0.72" fill="#1a1a1a"/>
<circle cx="573.10" cy="521.70" r="0.72" fill="#1a1a1a"/>
<circle cx="570.20" cy="534.80" r="0.72" fill="#1a1a1a"/>
<circle cx="560.90" cy="532.00" r="0.72" fill="#1a1a1a"/>
<circle cx="559.00" cy="533.20" r="0.72" fill="#1a1a1a"/>
<circle cx="572.30" cy="540.70" r="0.72" fill="#1a1a1a"/>
<circle cx="562.20" cy="540.10" r="0.72" fill="#1a1a1a"/>
<circle cx="559.00" cy="540.70" r="0.72" fill="#1a1a1a"/>
<circle cx="569.00" cy="544.00" r="0.72" fill="#1a1a1a"/>
<circle cx="560.30" cy="548.10" r="0.72" fill="#1a1a1a"/>
<circle cx="566.50" cy="553.70" r="0.72" fill="#1a1a1a"/>
<path d="M565.40,519.20L566.90,520.70L565.40,522.20L563.90,520.70Z" fill="#ffee00"/>
<text transform="translate(569.70,574.90) rotate(-90)" x="0" y="0" font-size="12.2" font-weight="bold" fill="#000" stroke="#000" stroke-width="0.3" text-anchor="end" textLength="49.0" lengthAdjust="spacingAndGlyphs">Summer</text>
<line x1="585.6" y1="571.3" x2="585.6" y2="573.10" stroke="#888" stroke-width="0.6"/>
<line x1="585.75" y1="481.6" x2="585.75" y2="555.7" stroke="#444" stroke-width="1.15"/>
<rect x="578.3" y="493.8" width="14.90" height="30.50" fill="#4363d8" stroke="#555" stroke-width="0.6"/>
<line x1="578.3" y1="511.4" x2="593.2" y2="511.4" stroke="#222" stroke-width="1.2"/>
<circle cx="580.80" cy="481.40" r="0.72" fill="#1a1a1a"/>
<circle cx="589.50" cy="483.90" r="0.72" fill="#1a1a1a"/>
<circle cx="578.90" cy="489.10" r="0.72" fill="#1a1a1a"/>
<circle cx="583.90" cy="495.60" r="0.72" fill="#1a1a1a"/>
<circle cx="587.60" cy="502.20" r="0.72" fill="#1a1a1a"/>
<circle cx="592.00" cy="505.00" r="0.72" fill="#1a1a1a"/>
<circle cx="582.60" cy="510.20" r="0.72" fill="#1a1a1a"/>
<circle cx="592.00" cy="513.40" r="0.72" fill="#1a1a1a"/>
<circle cx="586.40" cy="514.60" r="0.72" fill="#1a1a1a"/>
<circle cx="581.40" cy="517.10" r="0.72" fill="#1a1a1a"/>
<circle cx="578.30" cy="526.40" r="0.72" fill="#1a1a1a"/>
<circle cx="590.10" cy="529.90" r="0.72" fill="#1a1a1a"/>
<circle cx="582.00" cy="531.60" r="0.72" fill="#1a1a1a"/>
<circle cx="580.80" cy="555.60" r="0.72" fill="#1a1a1a"/>
<path d="M585.60,508.80L587.10,510.30L585.60,511.80L584.10,510.30Z" fill="#ffee00"/>
<text transform="translate(589.90,574.90) rotate(-90)" x="0" y="0" font-size="12.2" font-weight="bold" fill="#000" stroke="#000" stroke-width="0.3" text-anchor="end" textLength="21.0" lengthAdjust="spacingAndGlyphs">Fall</text>
<line x1="605.4" y1="571.3" x2="605.4" y2="573.10" stroke="#888" stroke-width="0.6"/>
<line x1="605.25" y1="497.8" x2="605.25" y2="534.2" stroke="#999" stroke-width="1.15"/>
<rect x="597.6" y="512.6" width="15.30" height="12.20" fill="#42d4f4" stroke="#555" stroke-width="0.6"/>
<line x1="597.6" y1="518.9" x2="612.9" y2="518.9" stroke="#222" stroke-width="1.2"/>
<circle cx="601.10" cy="497.40" r="0.72" fill="#1a1a1a"/>
<circle cx="603.60" cy="505.30" r="0.72" fill="#1a1a1a"/>
<circle cx="598.30" cy="505.90" r="0.72" fill="#1a1a1a"/>
<circle cx="604.90" cy="512.50" r="0.72" fill="#1a1a1a"/>
<circle cx="606.70" cy="516.80" r="0.72" fill="#1a1a1a"/>
<circle cx="603.00" cy="517.70" r="0.72" fill="#1a1a1a"/>
<circle cx="609.80" cy="518.70" r="0.72" fill="#1a1a1a"/>
<circle cx="612.90" cy="522.40" r="0.72" fill="#1a1a1a"/>
<circle cx="610.40" cy="525.80" r="0.72" fill="#1a1a1a"/>
<circle cx="604.90" cy="525.20" r="0.72" fill="#1a1a1a"/>
<circle cx="599.30" cy="530.70" r="0.72" fill="#1a1a1a"/>
<circle cx="598.60" cy="534.10" r="0.72" fill="#1a1a1a"/>
<circle cx="605.70" cy="533.60" r="0.72" fill="#1a1a1a"/>
<circle cx="612.90" cy="566.80" r="0.72" fill="#1a1a1a"/>
<path d="M605.40,519.20L606.90,520.70L605.40,522.20L603.90,520.70Z" fill="#ffee00"/>
<text transform="translate(609.70,574.90) rotate(-90)" x="0" y="0" font-size="12.2" font-weight="bold" fill="#000" stroke="#000" stroke-width="0.3" text-anchor="end" textLength="40.0" lengthAdjust="spacingAndGlyphs">Winter</text>
<rect x="23.4" y="673.2" width="78.40" height="103.40" fill="#fff" stroke="#a8a8a8" stroke-width="1.1"/>
<line x1="21.60" y1="774" x2="23.4" y2="774" stroke="#777" stroke-width="0.6"/>
<text x="21.50" y="775.40" font-size="4.1" text-anchor="end" fill="#3a3a3a">1000</text>
<line x1="21.60" y1="738.3" x2="23.4" y2="738.3" stroke="#777" stroke-width="0.6"/>
<text x="21.50" y="739.70" font-size="4.1" text-anchor="end" fill="#3a3a3a">2000</text>
<line x1="21.60" y1="702.4" x2="23.4" y2="702.4" stroke="#777" stroke-width="0.6"/>
<text x="21.50" y="703.80" font-size="4.1" text-anchor="end" fill="#3a3a3a">3000</text>
<line x1="34.6" y1="776.6" x2="34.6" y2="778.40" stroke="#888" stroke-width="0.6"/>
<line x1="34.55" y1="678.1" x2="34.55" y2="744.6" stroke="#444" stroke-width="1.15"/>
<rect x="27.3" y="689.5" width="14.50" height="37.20" fill="#e6194b" stroke="#555" stroke-width="0.6"/>
<line x1="27.3" y1="712.3" x2="41.8" y2="712.3" stroke="#222" stroke-width="1.2"/>
<circle cx="27.70" cy="677.70" r="0.72" fill="#1a1a1a"/>
<circle cx="41.90" cy="685.40" r="0.72" fill="#1a1a1a"/>
<circle cx="28.20" cy="689.10" r="0.72" fill="#1a1a1a"/>
<circle cx="38.90" cy="695.40" r="0.72" fill="#1a1a1a"/>
<circle cx="37.30" cy="712.50" r="0.72" fill="#1a1a1a"/>
<circle cx="40.40" cy="723.90" r="0.72" fill="#1a1a1a"/>
<circle cx="38.20" cy="726.70" r="0.72" fill="#1a1a1a"/>
<circle cx="28.80" cy="729.50" r="0.72" fill="#1a1a1a"/>
<circle cx="31.70" cy="744.20" r="0.72" fill="#1a1a1a"/>
<path d="M34.60,708.00L36.10,709.50L34.60,711.00L33.10,709.50Z" fill="#ffee00"/>
<text transform="translate(38.90,780.20) rotate(-90)" x="0" y="0" font-size="12.2" font-weight="bold" fill="#000" stroke="#000" stroke-width="0.3" text-anchor="end" textLength="40.3" lengthAdjust="spacingAndGlyphs">Spring</text>
<line x1="53.6" y1="776.6" x2="53.6" y2="778.40" stroke="#888" stroke-width="0.6"/>
<line x1="53.30" y1="679" x2="53.30" y2="745.5" stroke="#888" stroke-width="1.15"/>
<rect x="46.3" y="708.3" width="14.00" height="23.80" fill="#3cb44b" stroke="#555" stroke-width="0.6"/>
<line x1="46.3" y1="720.4" x2="60.3" y2="720.4" stroke="#222" stroke-width="1.2"/>
<circle cx="59.30" cy="678.60" r="0.72" fill="#1a1a1a"/>
<circle cx="56.30" cy="693.90" r="0.72" fill="#1a1a1a"/>
<circle cx="56.30" cy="697.20" r="0.72" fill="#1a1a1a"/>
<circle cx="47.50" cy="701.00" r="0.72" fill="#1a1a1a"/>
<circle cx="60.00" cy="702.20" r="0.72" fill="#1a1a1a"/>
<circle cx="50.30" cy="705.00" r="0.72" fill="#1a1a1a"/>
<circle cx="51.30" cy="707.20" r="0.72" fill="#1a1a1a"/>
<circle cx="49.30" cy="709.30" r="0.72" fill="#1a1a1a"/>
<circle cx="60.00" cy="712.50" r="0.72" fill="#1a1a1a"/>
<circle cx="49.30" cy="715.50" r="0.72" fill="#1a1a1a"/>
<circle cx="53.40" cy="717.50" r="0.72" fill="#1a1a1a"/>
<circle cx="56.50" cy="717.50" r="0.72" fill="#1a1a1a"/>
<circle cx="52.60" cy="720.80" r="0.72" fill="#1a1a1a"/>
<circle cx="47.80" cy="723.70" r="0.72" fill="#1a1a1a"/>
<circle cx="60.60" cy="726.40" r="0.72" fill="#1a1a1a"/>
<circle cx="49.70" cy="729.90" r="0.72" fill="#1a1a1a"/>
<circle cx="56.50" cy="730.80" r="0.72" fill="#1a1a1a"/>
<circle cx="57.80" cy="733.20" r="0.72" fill="#1a1a1a"/>
<circle cx="46.00" cy="739.50" r="0.72" fill="#1a1a1a"/>
<circle cx="47.80" cy="741.10" r="0.72" fill="#1a1a1a"/>
<circle cx="49.70" cy="740.70" r="0.72" fill="#1a1a1a"/>
<circle cx="57.50" cy="745.00" r="0.72" fill="#1a1a1a"/>
<path d="M53.20,718.90L54.70,720.40L53.20,721.90L51.70,720.40Z" fill="#ffee00"/>
<text transform="translate(57.90,780.20) rotate(-90)" x="0" y="0" font-size="12.2" font-weight="bold" fill="#000" stroke="#000" stroke-width="0.3" text-anchor="end" textLength="49.0" lengthAdjust="spacingAndGlyphs">Summer</text>
<line x1="71.6" y1="776.6" x2="71.6" y2="778.40" stroke="#888" stroke-width="0.6"/>
<line x1="72.15" y1="719.5" x2="72.15" y2="747.5" stroke="#555" stroke-width="1.15"/>
<rect x="65.3" y="729.2" width="13.70" height="10.40" fill="#4363d8" stroke="#555" stroke-width="0.6"/>
<line x1="65.3" y1="734.3" x2="79" y2="734.3" stroke="#222" stroke-width="1.2"/>
<circle cx="71.70" cy="720.10" r="0.72" fill="#1a1a1a"/>
<circle cx="68.00" cy="726.70" r="0.72" fill="#1a1a1a"/>
<circle cx="77.70" cy="727.20" r="0.72" fill="#1a1a1a"/>
<circle cx="71.70" cy="728.60" r="0.72" fill="#1a1a1a"/>
<circle cx="71.20" cy="730.40" r="0.72" fill="#1a1a1a"/>
<circle cx="76.30" cy="732.30" r="0.72" fill="#1a1a1a"/>
<circle cx="67.50" cy="732.30" r="0.72" fill="#1a1a1a"/>
<circle cx="68.00" cy="736.90" r="0.72" fill="#1a1a1a"/>
<circle cx="78.60" cy="739.60" r="0.72" fill="#1a1a1a"/>
<circle cx="68.50" cy="740.10" r="0.72" fill="#1a1a1a"/>
<circle cx="69.40" cy="743.80" r="0.72" fill="#1a1a1a"/>
<circle cx="70.80" cy="747.50" r="0.72" fill="#1a1a1a"/>
<circle cx="78.10" cy="772.40" r="0.72" fill="#1a1a1a"/>
<path d="M72.00,734.80L73.50,736.30L72.00,737.80L70.50,736.30Z" fill="#ffee00"/>
<text transform="translate(75.90,780.20) rotate(-90)" x="0" y="0" font-size="12.2" font-weight="bold" fill="#000" stroke="#000" stroke-width="0.3" text-anchor="end" textLength="21.0" lengthAdjust="spacingAndGlyphs">Fall</text>
<line x1="90.4" y1="776.6" x2="90.4" y2="778.40" stroke="#888" stroke-width="0.6"/>
<line x1="90.65" y1="735.4" x2="90.65" y2="751.3" stroke="#777" stroke-width="1.15"/>
<rect x="83.4" y="740.5" width="14.50" height="6.30" fill="#42d4f4" stroke="#555" stroke-width="0.6"/>
<line x1="83.4" y1="743.5" x2="97.9" y2="743.5" stroke="#222" stroke-width="1.2"/>
<circle cx="94.30" cy="735.30" r="0.72" fill="#1a1a1a"/>
<circle cx="91.50" cy="736.10" r="0.72" fill="#1a1a1a"/>
<circle cx="84.60" cy="737.60" r="0.72" fill="#1a1a1a"/>
<circle cx="93.30" cy="739.60" r="0.72" fill="#1a1a1a"/>
<circle cx="97.00" cy="740.60" r="0.72" fill="#1a1a1a"/>
<circle cx="86.00" cy="741.90" r="0.72" fill="#1a1a1a"/>
<circle cx="90.60" cy="743.30" r="0.72" fill="#1a1a1a"/>
<circle cx="95.20" cy="744.20" r="0.72" fill="#1a1a1a"/>
<circle cx="87.80" cy="745.20" r="0.72" fill="#1a1a1a"/>
<circle cx="97.50" cy="746.10" r="0.72" fill="#1a1a1a"/>
<circle cx="84.10" cy="747.90" r="0.72" fill="#1a1a1a"/>
<circle cx="83.70" cy="749.30" r="0.72" fill="#1a1a1a"/>
<circle cx="88.70" cy="748.40" r="0.72" fill="#1a1a1a"/>
<circle cx="91.50" cy="751.60" r="0.72" fill="#1a1a1a"/>
<path d="M90.40,741.80L91.90,743.30L90.40,744.80L88.90,743.30Z" fill="#ffee00"/>
<text transform="translate(94.70,780.20) rotate(-90)" x="0" y="0" font-size="12.2" font-weight="bold" fill="#000" stroke="#000" stroke-width="0.3" text-anchor="end" textLength="40.0" lengthAdjust="spacingAndGlyphs">Winter</text>
<rect x="114.2" y="673.4" width="83.70" height="103.20" fill="#fff" stroke="#a8a8a8" stroke-width="1.1"/>
<line x1="112.40" y1="673.4" x2="114.2" y2="673.4" stroke="#777" stroke-width="0.6"/>
<text x="112.30" y="674.80" font-size="4.1" text-anchor="end" fill="#3a3a3a">3</text>
<line x1="112.40" y1="692.4" x2="114.2" y2="692.4" stroke="#777" stroke-width="0.6"/>
<text x="112.30" y="693.80" font-size="4.1" text-anchor="end" fill="#3a3a3a">2</text>
<line x1="112.40" y1="710.8" x2="114.2" y2="710.8" stroke="#777" stroke-width="0.6"/>
<text x="112.30" y="712.20" font-size="4.1" text-anchor="end" fill="#3a3a3a">1</text>
<line x1="112.40" y1="729.5" x2="114.2" y2="729.5" stroke="#777" stroke-width="0.6"/>
<text x="112.30" y="730.90" font-size="4.1" text-anchor="end" fill="#3a3a3a">0</text>
<line x1="112.40" y1="748" x2="114.2" y2="748" stroke="#777" stroke-width="0.6"/>
<text x="112.30" y="749.40" font-size="4.1" text-anchor="end" fill="#3a3a3a">-1</text>
<line x1="112.40" y1="766.4" x2="114.2" y2="766.4" stroke="#777" stroke-width="0.6"/>
<text x="112.30" y="767.80" font-size="4.1" text-anchor="end" fill="#3a3a3a">-2</text>
<line x1="126.3" y1="776.6" x2="126.3" y2="778.40" stroke="#888" stroke-width="0.6"/>
<line x1="126.35" y1="677.1" x2="126.35" y2="744.6" stroke="#333" stroke-width="1.15"/>
<rect x="118.9" y="689.5" width="14.90" height="37.20" fill="#e6194b" stroke="#555" stroke-width="0.6"/>
<line x1="118.9" y1="712.3" x2="133.8" y2="712.3" stroke="#222" stroke-width="1.2"/>
<circle cx="133.20" cy="677.70" r="0.72" fill="#1a1a1a"/>
<circle cx="119.00" cy="685.40" r="0.72" fill="#1a1a1a"/>
<circle cx="132.70" cy="689.10" r="0.72" fill="#1a1a1a"/>
<circle cx="122.00" cy="695.40" r="0.72" fill="#1a1a1a"/>
<circle cx="123.60" cy="712.50" r="0.72" fill="#1a1a1a"/>
<circle cx="120.50" cy="723.90" r="0.72" fill="#1a1a1a"/>
<circle cx="122.70" cy="726.70" r="0.72" fill="#1a1a1a"/>
<circle cx="132.10" cy="729.50" r="0.72" fill="#1a1a1a"/>
<circle cx="129.20" cy="744.20" r="0.72" fill="#1a1a1a"/>
<path d="M126.00,707.90L127.50,709.40L126.00,710.90L124.50,709.40Z" fill="#ffee00"/>
<text transform="translate(130.60,780.20) rotate(-90)" x="0" y="0" font-size="12.2" font-weight="bold" fill="#000" stroke="#000" stroke-width="0.3" text-anchor="end" textLength="40.3" lengthAdjust="spacingAndGlyphs">Spring</text>
<line x1="145.7" y1="776.6" x2="145.7" y2="778.40" stroke="#888" stroke-width="0.6"/>
<line x1="146.05" y1="679.3" x2="146.05" y2="745.4" stroke="#999" stroke-width="1.15"/>
<rect x="138.5" y="708.3" width="15.10" height="23.70" fill="#3cb44b" stroke="#555" stroke-width="0.6"/>
<line x1="138.5" y1="720.3" x2="153.6" y2="720.3" stroke="#222" stroke-width="1.2"/>
<circle cx="140.00" cy="678.60" r="0.72" fill="#1a1a1a"/>
<circle cx="143.00" cy="693.90" r="0.72" fill="#1a1a1a"/>
<circle cx="143.00" cy="697.20" r="0.72" fill="#1a1a1a"/>
<circle cx="151.80" cy="701.00" r="0.72" fill="#1a1a1a"/>
<circle cx="139.30" cy="702.20" r="0.72" fill="#1a1a1a"/>
<circle cx="149.00" cy="705.00" r="0.72" fill="#1a1a1a"/>
<circle cx="148.00" cy="707.20" r="0.72" fill="#1a1a1a"/>
<circle cx="150.00" cy="709.30" r="0.72" fill="#1a1a1a"/>
<circle cx="139.30" cy="712.50" r="0.72" fill="#1a1a1a"/>
<circle cx="150.00" cy="715.50" r="0.72" fill="#1a1a1a"/>
<circle cx="145.90" cy="717.50" r="0.72" fill="#1a1a1a"/>
<circle cx="142.80" cy="717.50" r="0.72" fill="#1a1a1a"/>
<circle cx="146.70" cy="720.80" r="0.72" fill="#1a1a1a"/>
<circle cx="151.50" cy="723.70" r="0.72" fill="#1a1a1a"/>
<circle cx="138.70" cy="726.40" r="0.72" fill="#1a1a1a"/>
<circle cx="149.60" cy="729.90" r="0.72" fill="#1a1a1a"/>
<circle cx="142.80" cy="730.80" r="0.72" fill="#1a1a1a"/>
<circle cx="141.50" cy="733.20" r="0.72" fill="#1a1a1a"/>
<circle cx="153.30" cy="739.50" r="0.72" fill="#1a1a1a"/>
<circle cx="151.50" cy="741.10" r="0.72" fill="#1a1a1a"/>
<circle cx="149.60" cy="740.70" r="0.72" fill="#1a1a1a"/>
<circle cx="141.80" cy="745.00" r="0.72" fill="#1a1a1a"/>
<path d="M146.00,718.80L147.50,720.30L146.00,721.80L144.50,720.30Z" fill="#ffee00"/>
<text transform="translate(150.00,780.20) rotate(-90)" x="0" y="0" font-size="12.2" font-weight="bold" fill="#000" stroke="#000" stroke-width="0.3" text-anchor="end" textLength="49.0" lengthAdjust="spacingAndGlyphs">Summer</text>
<line x1="166.1" y1="776.6" x2="166.1" y2="778.40" stroke="#888" stroke-width="0.6"/>
<line x1="166.00" y1="720.3" x2="166.00" y2="747.1" stroke="#999" stroke-width="1.15"/>
<rect x="158.3" y="729.5" width="15.40" height="10.10" fill="#4363d8" stroke="#555" stroke-width="0.6"/>
<line x1="158.3" y1="734.2" x2="173.7" y2="734.2" stroke="#222" stroke-width="1.2"/>
<circle cx="166.00" cy="720.10" r="0.72" fill="#1a1a1a"/>
<circle cx="169.70" cy="726.70" r="0.72" fill="#1a1a1a"/>
<circle cx="160.00" cy="727.20" r="0.72" fill="#1a1a1a"/>
<circle cx="166.00" cy="728.60" r="0.72" fill="#1a1a1a"/>
<circle cx="166.50" cy="730.40" r="0.72" fill="#1a1a1a"/>
<circle cx="161.40" cy="732.30" r="0.72" fill="#1a1a1a"/>
<circle cx="170.20" cy="732.30" r="0.72" fill="#1a1a1a"/>
<circle cx="169.70" cy="736.90" r="0.72" fill="#1a1a1a"/>
<circle cx="159.10" cy="739.60" r="0.72" fill="#1a1a1a"/>
<circle cx="169.20" cy="740.10" r="0.72" fill="#1a1a1a"/>
<circle cx="168.30" cy="743.80" r="0.72" fill="#1a1a1a"/>
<circle cx="166.90" cy="747.50" r="0.72" fill="#1a1a1a"/>
<circle cx="159.60" cy="772.40" r="0.72" fill="#1a1a1a"/>
<path d="M165.80,734.70L167.30,736.20L165.80,737.70L164.30,736.20Z" fill="#ffee00"/>
<text transform="translate(170.40,780.20) rotate(-90)" x="0" y="0" font-size="12.2" font-weight="bold" fill="#000" stroke="#000" stroke-width="0.3" text-anchor="end" textLength="21.0" lengthAdjust="spacingAndGlyphs">Fall</text>
<line x1="185.7" y1="776.6" x2="185.7" y2="778.40" stroke="#888" stroke-width="0.6"/>
<line x1="185.75" y1="735.4" x2="185.75" y2="750.5" stroke="#888" stroke-width="1.15"/>
<rect x="178.2" y="740.4" width="15.10" height="6.20" fill="#42d4f4" stroke="#555" stroke-width="0.6"/>
<line x1="178.2" y1="743.3" x2="193.3" y2="743.3" stroke="#222" stroke-width="1.2"/>
<circle cx="181.80" cy="735.30" r="0.72" fill="#1a1a1a"/>
<circle cx="184.60" cy="736.10" r="0.72" fill="#1a1a1a"/>
<circle cx="191.50" cy="737.60" r="0.72" fill="#1a1a1a"/>
<circle cx="182.80" cy="739.60" r="0.72" fill="#1a1a1a"/>
<circle cx="179.10" cy="740.60" r="0.72" fill="#1a1a1a"/>
<circle cx="190.10" cy="741.90" r="0.72" fill="#1a1a1a"/>
<circle cx="185.50" cy="743.30" r="0.72" fill="#1a1a1a"/>
<circle cx="180.90" cy="744.20" r="0.72" fill="#1a1a1a"/>
<circle cx="188.30" cy="745.20" r="0.72" fill="#1a1a1a"/>
<circle cx="178.60" cy="746.10" r="0.72" fill="#1a1a1a"/>
<circle cx="192.00" cy="747.90" r="0.72" fill="#1a1a1a"/>
<circle cx="192.40" cy="749.30" r="0.72" fill="#1a1a1a"/>
<circle cx="187.40" cy="748.40" r="0.72" fill="#1a1a1a"/>
<circle cx="184.60" cy="751.60" r="0.72" fill="#1a1a1a"/>
<path d="M185.70,741.80L187.20,743.30L185.70,744.80L184.20,743.30Z" fill="#ffee00"/>
<text transform="translate(190.00,780.20) rotate(-90)" x="0" y="0" font-size="12.2" font-weight="bold" fill="#000" stroke="#000" stroke-width="0.3" text-anchor="end" textLength="40.0" lengthAdjust="spacingAndGlyphs">Winter</text>
<rect x="223.1" y="673.2" width="78.50" height="103.40" fill="#fff" stroke="#a8a8a8" stroke-width="1.1"/>
<line x1="221.30" y1="677.1" x2="223.1" y2="677.1" stroke="#777" stroke-width="0.6"/>
<text x="221.20" y="678.50" font-size="4.1" text-anchor="end" fill="#3a3a3a">6000</text>
<line x1="221.30" y1="704.4" x2="223.1" y2="704.4" stroke="#777" stroke-width="0.6"/>
<text x="221.20" y="705.80" font-size="4.1" text-anchor="end" fill="#3a3a3a">5000</text>
<line x1="221.30" y1="732" x2="223.1" y2="732" stroke="#777" stroke-width="0.6"/>
<text x="221.20" y="733.40" font-size="4.1" text-anchor="end" fill="#3a3a3a">4000</text>
<line x1="221.30" y1="759.3" x2="223.1" y2="759.3" stroke="#777" stroke-width="0.6"/>
<text x="221.20" y="760.70" font-size="4.1" text-anchor="end" fill="#3a3a3a">3000</text>
<line x1="234" y1="776.6" x2="234" y2="778.40" stroke="#888" stroke-width="0.6"/>
<line x1="234.30" y1="710.6" x2="234.30" y2="751.8" stroke="#bbb" stroke-width="1.15"/>
<rect x="227.3" y="716.5" width="14.00" height="19.20" fill="#e6194b" stroke="#555" stroke-width="0.6"/>
<line x1="227.3" y1="720.3" x2="241.3" y2="720.3" stroke="#222" stroke-width="1.2"/>
<circle cx="227.00" cy="710.30" r="0.72" fill="#1a1a1a"/>
<circle cx="227.70" cy="715.20" r="0.72" fill="#1a1a1a"/>
<circle cx="238.90" cy="716.50" r="0.72" fill="#1a1a1a"/>
<circle cx="230.70" cy="719.60" r="0.72" fill="#1a1a1a"/>
<circle cx="230.50" cy="731.60" r="0.72" fill="#1a1a1a"/>
<circle cx="237.30" cy="735.70" r="0.72" fill="#1a1a1a"/>
<circle cx="227.70" cy="740.70" r="0.72" fill="#1a1a1a"/>
<circle cx="229.80" cy="751.50" r="0.72" fill="#1a1a1a"/>
<path d="M234.00,725.50L235.50,727.00L234.00,728.50L232.50,727.00Z" fill="#ffee00"/>
<text transform="translate(238.30,780.20) rotate(-90)" x="0" y="0" font-size="12.2" font-weight="bold" fill="#000" stroke="#000" stroke-width="0.3" text-anchor="end" textLength="40.3" lengthAdjust="spacingAndGlyphs">Spring</text>
<line x1="252.7" y1="776.6" x2="252.7" y2="778.40" stroke="#888" stroke-width="0.6"/>
<line x1="252.95" y1="706.1" x2="252.95" y2="764.7" stroke="#bbb" stroke-width="1.15"/>
<rect x="246" y="722.3" width="13.90" height="23.50" fill="#3cb44b" stroke="#555" stroke-width="0.6"/>
<line x1="246" y1="736.6" x2="259.9" y2="736.6" stroke="#222" stroke-width="1.2"/>
<circle cx="256.50" cy="705.90" r="0.72" fill="#1a1a1a"/>
<circle cx="256.30" cy="707.80" r="0.72" fill="#1a1a1a"/>
<circle cx="250.10" cy="714.00" r="0.72" fill="#1a1a1a"/>
<circle cx="259.00" cy="714.00" r="0.72" fill="#1a1a1a"/>
<circle cx="250.10" cy="717.10" r="0.72" fill="#1a1a1a"/>
<circle cx="255.30" cy="720.20" r="0.72" fill="#1a1a1a"/>
<circle cx="246.00" cy="723.90" r="0.72" fill="#1a1a1a"/>
<circle cx="248.50" cy="724.60" r="0.72" fill="#1a1a1a"/>
<circle cx="254.70" cy="730.10" r="0.72" fill="#1a1a1a"/>
<circle cx="259.00" cy="731.40" r="0.72" fill="#1a1a1a"/>
<circle cx="259.00" cy="734.50" r="0.72" fill="#1a1a1a"/>
<circle cx="250.60" cy="737.00" r="0.72" fill="#1a1a1a"/>
<circle cx="246.60" cy="740.10" r="0.72" fill="#1a1a1a"/>
<circle cx="247.60" cy="741.30" r="0.72" fill="#1a1a1a"/>
<circle cx="253.40" cy="743.20" r="0.72" fill="#1a1a1a"/>
<circle cx="259.00" cy="745.70" r="0.72" fill="#1a1a1a"/>
<circle cx="246.00" cy="749.80" r="0.72" fill="#1a1a1a"/>
<circle cx="259.60" cy="751.00" r="0.72" fill="#1a1a1a"/>
<circle cx="254.30" cy="751.90" r="0.72" fill="#1a1a1a"/>
<circle cx="254.70" cy="759.30" r="0.72" fill="#1a1a1a"/>
<circle cx="246.00" cy="760.60" r="0.72" fill="#1a1a1a"/>
<circle cx="247.80" cy="764.90" r="0.72" fill="#1a1a1a"/>
<path d="M252.70,732.70L254.20,734.20L252.70,735.70L251.20,734.20Z" fill="#ffee00"/>
<text transform="translate(257.00,780.20) rotate(-90)" x="0" y="0" font-size="12.2" font-weight="bold" fill="#000" stroke="#000" stroke-width="0.3" text-anchor="end" textLength="49.0" lengthAdjust="spacingAndGlyphs">Summer</text>
<line x1="271.5" y1="776.6" x2="271.5" y2="778.40" stroke="#888" stroke-width="0.6"/>
<line x1="271.55" y1="677.1" x2="271.55" y2="769.2" stroke="#222" stroke-width="1.15"/>
<rect x="264.4" y="708.1" width="14.30" height="28.50" fill="#4363d8" stroke="#555" stroke-width="0.6"/>
<line x1="264.4" y1="729" x2="278.7" y2="729" stroke="#222" stroke-width="1.2"/>
<circle cx="271.60" cy="677.70" r="0.72" fill="#1a1a1a"/>
<circle cx="266.60" cy="701.00" r="0.72" fill="#1a1a1a"/>
<circle cx="269.70" cy="707.20" r="0.72" fill="#1a1a1a"/>
<circle cx="273.40" cy="706.30" r="0.72" fill="#1a1a1a"/>
<circle cx="278.40" cy="707.20" r="0.72" fill="#1a1a1a"/>
<circle cx="267.80" cy="710.00" r="0.72" fill="#1a1a1a"/>
<circle cx="271.60" cy="726.40" r="0.72" fill="#1a1a1a"/>
<circle cx="265.30" cy="730.10" r="0.72" fill="#1a1a1a"/>
<circle cx="269.10" cy="731.40" r="0.72" fill="#1a1a1a"/>
<circle cx="274.70" cy="731.40" r="0.72" fill="#1a1a1a"/>
<circle cx="268.50" cy="737.60" r="0.72" fill="#1a1a1a"/>
<circle cx="272.20" cy="740.10" r="0.72" fill="#1a1a1a"/>
<circle cx="276.50" cy="740.10" r="0.72" fill="#1a1a1a"/>
<circle cx="277.10" cy="743.20" r="0.72" fill="#1a1a1a"/>
<circle cx="267.80" cy="768.90" r="0.72" fill="#1a1a1a"/>
<path d="M271.50,723.30L273.00,724.80L271.50,726.30L270.00,724.80Z" fill="#ffee00"/>
<text transform="translate(275.80,780.20) rotate(-90)" x="0" y="0" font-size="12.2" font-weight="bold" fill="#000" stroke="#000" stroke-width="0.3" text-anchor="end" textLength="21.0" lengthAdjust="spacingAndGlyphs">Fall</text>
<line x1="290.4" y1="776.6" x2="290.4" y2="778.40" stroke="#888" stroke-width="0.6"/>
<line x1="290.40" y1="719.5" x2="290.40" y2="753.8" stroke="#999" stroke-width="1.15"/>
<rect x="283.2" y="729.9" width="14.40" height="12.20" fill="#42d4f4" stroke="#555" stroke-width="0.6"/>
<line x1="283.2" y1="734.9" x2="297.6" y2="734.9" stroke="#222" stroke-width="1.2"/>
<circle cx="283.40" cy="720.00" r="0.72" fill="#1a1a1a"/>
<circle cx="284.60" cy="727.00" r="0.72" fill="#1a1a1a"/>
<circle cx="295.20" cy="727.00" r="0.72" fill="#1a1a1a"/>
<circle cx="292.70" cy="729.50" r="0.72" fill="#1a1a1a"/>
<circle cx="287.70" cy="731.40" r="0.72" fill="#1a1a1a"/>
<circle cx="285.20" cy="734.50" r="0.72" fill="#1a1a1a"/>
<circle cx="291.40" cy="737.00" r="0.72" fill="#1a1a1a"/>
<circle cx="286.50" cy="737.00" r="0.72" fill="#1a1a1a"/>
<circle cx="285.20" cy="741.90" r="0.72" fill="#1a1a1a"/>
<circle cx="296.40" cy="745.00" r="0.72" fill="#1a1a1a"/>
<circle cx="289.80" cy="748.20" r="0.72" fill="#1a1a1a"/>
<circle cx="290.80" cy="750.60" r="0.72" fill="#1a1a1a"/>
<circle cx="294.50" cy="753.70" r="0.72" fill="#1a1a1a"/>
<circle cx="288.30" cy="772.00" r="0.72" fill="#1a1a1a"/>
<path d="M290.40,735.60L291.90,737.10L290.40,738.60L288.90,737.10Z" fill="#ffee00"/>
<text transform="translate(294.70,780.20) rotate(-90)" x="0" y="0" font-size="12.2" font-weight="bold" fill="#000" stroke="#000" stroke-width="0.3" text-anchor="end" textLength="40.0" lengthAdjust="spacingAndGlyphs">Winter</text>
<rect x="314.2" y="673.4" width="83.20" height="103.20" fill="#fff" stroke="#a8a8a8" stroke-width="1.1"/>
<line x1="312.40" y1="698.2" x2="314.2" y2="698.2" stroke="#777" stroke-width="0.6"/>
<text x="312.30" y="699.60" font-size="4.1" text-anchor="end" fill="#3a3a3a">2</text>
<line x1="312.40" y1="732" x2="314.2" y2="732" stroke="#777" stroke-width="0.6"/>
<text x="312.30" y="733.40" font-size="4.1" text-anchor="end" fill="#3a3a3a">0</text>
<line x1="312.40" y1="765.5" x2="314.2" y2="765.5" stroke="#777" stroke-width="0.6"/>
<text x="312.30" y="766.90" font-size="4.1" text-anchor="end" fill="#3a3a3a">-2</text>
<line x1="326" y1="776.6" x2="326" y2="778.40" stroke="#888" stroke-width="0.6"/>
<line x1="325.95" y1="710.6" x2="325.95" y2="751.8" stroke="#888" stroke-width="1.15"/>
<rect x="318.4" y="716.5" width="15.10" height="19.20" fill="#e6194b" stroke="#555" stroke-width="0.6"/>
<line x1="318.4" y1="720.3" x2="333.5" y2="720.3" stroke="#222" stroke-width="1.2"/>
<circle cx="333.00" cy="710.30" r="0.72" fill="#1a1a1a"/>
<circle cx="332.30" cy="715.20" r="0.72" fill="#1a1a1a"/>
<circle cx="321.10" cy="716.50" r="0.72" fill="#1a1a1a"/>
<circle cx="329.30" cy="719.60" r="0.72" fill="#1a1a1a"/>
<circle cx="329.50" cy="731.60" r="0.72" fill="#1a1a1a"/>
<circle cx="322.70" cy="735.70" r="0.72" fill="#1a1a1a"/>
<circle cx="332.30" cy="740.70" r="0.72" fill="#1a1a1a"/>
<circle cx="330.20" cy="751.50" r="0.72" fill="#1a1a1a"/>
<path d="M325.60,725.50L327.10,727.00L325.60,728.50L324.10,727.00Z" fill="#ffee00"/>
<text transform="translate(330.30,780.20) rotate(-90)" x="0" y="0" font-size="12.2" font-weight="bold" fill="#000" stroke="#000" stroke-width="0.3" text-anchor="end" textLength="40.3" lengthAdjust="spacingAndGlyphs">Spring</text>
<line x1="345.5" y1="776.6" x2="345.5" y2="778.40" stroke="#888" stroke-width="0.6"/>
<line x1="345.85" y1="706.1" x2="345.85" y2="764.7" stroke="#444" stroke-width="1.15"/>
<rect x="338.5" y="722.3" width="14.70" height="23.50" fill="#3cb44b" stroke="#555" stroke-width="0.6"/>
<line x1="338.5" y1="736.2" x2="353.2" y2="736.2" stroke="#222" stroke-width="1.2"/>
<circle cx="341.70" cy="705.90" r="0.72" fill="#1a1a1a"/>
<circle cx="341.90" cy="707.80" r="0.72" fill="#1a1a1a"/>
<circle cx="348.10" cy="714.00" r="0.72" fill="#1a1a1a"/>
<circle cx="339.20" cy="714.00" r="0.72" fill="#1a1a1a"/>
<circle cx="348.10" cy="717.10" r="0.72" fill="#1a1a1a"/>
<circle cx="342.90" cy="720.20" r="0.72" fill="#1a1a1a"/>
<circle cx="352.20" cy="723.90" r="0.72" fill="#1a1a1a"/>
<circle cx="349.70" cy="724.60" r="0.72" fill="#1a1a1a"/>
<circle cx="343.50" cy="730.10" r="0.72" fill="#1a1a1a"/>
<circle cx="339.20" cy="731.40" r="0.72" fill="#1a1a1a"/>
<circle cx="339.20" cy="734.50" r="0.72" fill="#1a1a1a"/>
<circle cx="347.60" cy="737.00" r="0.72" fill="#1a1a1a"/>
<circle cx="351.60" cy="740.10" r="0.72" fill="#1a1a1a"/>
<circle cx="350.60" cy="741.30" r="0.72" fill="#1a1a1a"/>
<circle cx="344.80" cy="743.20" r="0.72" fill="#1a1a1a"/>
<circle cx="339.20" cy="745.70" r="0.72" fill="#1a1a1a"/>
<circle cx="352.20" cy="749.80" r="0.72" fill="#1a1a1a"/>
<circle cx="338.60" cy="751.00" r="0.72" fill="#1a1a1a"/>
<circle cx="343.90" cy="751.90" r="0.72" fill="#1a1a1a"/>
<circle cx="343.50" cy="759.30" r="0.72" fill="#1a1a1a"/>
<circle cx="352.20" cy="760.60" r="0.72" fill="#1a1a1a"/>
<circle cx="350.40" cy="764.90" r="0.72" fill="#1a1a1a"/>
<path d="M345.50,732.70L347.00,734.20L345.50,735.70L344.00,734.20Z" fill="#ffee00"/>
<text transform="translate(349.80,780.20) rotate(-90)" x="0" y="0" font-size="12.2" font-weight="bold" fill="#000" stroke="#000" stroke-width="0.3" text-anchor="end" textLength="49.0" lengthAdjust="spacingAndGlyphs">Summer</text>
<line x1="365.6" y1="776.6" x2="365.6" y2="778.40" stroke="#888" stroke-width="0.6"/>
<line x1="365.75" y1="677.6" x2="365.75" y2="769.2" stroke="#333" stroke-width="1.15"/>
<rect x="358.3" y="708.1" width="14.90" height="28.50" fill="#4363d8" stroke="#555" stroke-width="0.6"/>
<line x1="358.3" y1="729" x2="373.2" y2="729" stroke="#222" stroke-width="1.2"/>
<circle cx="365.50" cy="677.70" r="0.72" fill="#1a1a1a"/>
<circle cx="370.50" cy="701.00" r="0.72" fill="#1a1a1a"/>
<circle cx="367.40" cy="707.20" r="0.72" fill="#1a1a1a"/>
<circle cx="363.70" cy="706.30" r="0.72" fill="#1a1a1a"/>
<circle cx="358.70" cy="707.20" r="0.72" fill="#1a1a1a"/>
<circle cx="369.30" cy="710.00" r="0.72" fill="#1a1a1a"/>
<circle cx="365.50" cy="726.40" r="0.72" fill="#1a1a1a"/>
<circle cx="371.80" cy="730.10" r="0.72" fill="#1a1a1a"/>
<circle cx="368.00" cy="731.40" r="0.72" fill="#1a1a1a"/>
<circle cx="362.40" cy="731.40" r="0.72" fill="#1a1a1a"/>
<circle cx="368.60" cy="737.60" r="0.72" fill="#1a1a1a"/>
<circle cx="364.90" cy="740.10" r="0.72" fill="#1a1a1a"/>
<circle cx="360.60" cy="740.10" r="0.72" fill="#1a1a1a"/>
<circle cx="360.00" cy="743.20" r="0.72" fill="#1a1a1a"/>
<circle cx="369.30" cy="768.90" r="0.72" fill="#1a1a1a"/>
<path d="M365.60,723.30L367.10,724.80L365.60,726.30L364.10,724.80Z" fill="#ffee00"/>
<text transform="translate(369.90,780.20) rotate(-90)" x="0" y="0" font-size="12.2" font-weight="bold" fill="#000" stroke="#000" stroke-width="0.3" text-anchor="end" textLength="21.0" lengthAdjust="spacingAndGlyphs">Fall</text>
<line x1="385.4" y1="776.6" x2="385.4" y2="778.40" stroke="#888" stroke-width="0.6"/>
<line x1="385.25" y1="719.5" x2="385.25" y2="753.8" stroke="#777" stroke-width="1.15"/>
<rect x="377.9" y="729.9" width="14.70" height="12.20" fill="#42d4f4" stroke="#555" stroke-width="0.6"/>
<line x1="377.9" y1="734.5" x2="392.6" y2="734.5" stroke="#222" stroke-width="1.2"/>
<circle cx="392.40" cy="720.00" r="0.72" fill="#1a1a1a"/>
<circle cx="391.20" cy="727.00" r="0.72" fill="#1a1a1a"/>
<circle cx="380.60" cy="727.00" r="0.72" fill="#1a1a1a"/>
<circle cx="383.10" cy="729.50" r="0.72" fill="#1a1a1a"/>
<circle cx="388.10" cy="731.40" r="0.72" fill="#1a1a1a"/>
<circle cx="390.60" cy="734.50" r="0.72" fill="#1a1a1a"/>
<circle cx="384.40" cy="737.00" r="0.72" fill="#1a1a1a"/>
<circle cx="389.30" cy="737.00" r="0.72" fill="#1a1a1a"/>
<circle cx="390.60" cy="741.90" r="0.72" fill="#1a1a1a"/>
<circle cx="379.40" cy="745.00" r="0.72" fill="#1a1a1a"/>
<circle cx="386.00" cy="748.20" r="0.72" fill="#1a1a1a"/>
<circle cx="385.00" cy="750.60" r="0.72" fill="#1a1a1a"/>
<circle cx="381.30" cy="753.70" r="0.72" fill="#1a1a1a"/>
<circle cx="387.50" cy="772.00" r="0.72" fill="#1a1a1a"/>
<path d="M385.40,735.60L386.90,737.10L385.40,738.60L383.90,737.10Z" fill="#ffee00"/>
<text transform="translate(389.70,780.20) rotate(-90)" x="0" y="0" font-size="12.2" font-weight="bold" fill="#000" stroke="#000" stroke-width="0.3" text-anchor="end" textLength="40.0" lengthAdjust="spacingAndGlyphs">Winter</text>
</svg></body></html>
